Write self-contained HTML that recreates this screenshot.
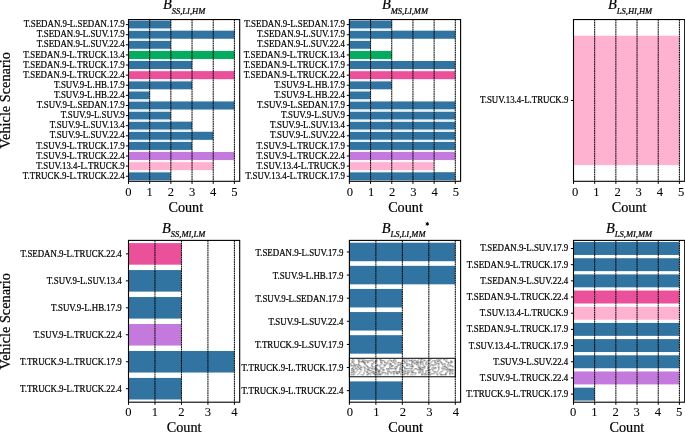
<!DOCTYPE html>
<html><head><meta charset="utf-8"><style>
html,body{margin:0;padding:0;background:#fff;}
body{width:685px;height:432px;overflow:hidden;}
svg{display:block;font-family:"Liberation Serif",serif;}
text{filter:grayscale(1);stroke:#000;stroke-width:0.22px;}
text{fill:#000;}
</style></head><body>
<svg width="685" height="432" viewBox="0 0 685 432">
<rect width="685" height="432" fill="#fff"/>
<rect x="128.5" y="20.56" width="42.36" height="8.09" fill="#3274A1"/>
<rect x="128.5" y="30.67" width="105.9" height="8.09" fill="#3274A1"/>
<rect x="128.5" y="40.78" width="42.36" height="8.09" fill="#3274A1"/>
<rect x="128.5" y="50.89" width="105.9" height="8.09" fill="#04AC60"/>
<rect x="128.5" y="61" width="63.54" height="8.09" fill="#3274A1"/>
<rect x="128.5" y="71.11" width="105.9" height="8.09" fill="#EA519A"/>
<rect x="128.5" y="81.22" width="63.54" height="8.09" fill="#3274A1"/>
<rect x="128.5" y="91.33" width="21.18" height="8.09" fill="#3274A1"/>
<rect x="128.5" y="101.44" width="105.9" height="8.09" fill="#3274A1"/>
<rect x="128.5" y="111.55" width="42.36" height="8.09" fill="#3274A1"/>
<rect x="128.5" y="121.65" width="63.54" height="8.09" fill="#3274A1"/>
<rect x="128.5" y="131.76" width="84.72" height="8.09" fill="#3274A1"/>
<rect x="128.5" y="141.87" width="63.54" height="8.09" fill="#3274A1"/>
<rect x="128.5" y="151.98" width="105.9" height="8.09" fill="#C47ADC"/>
<rect x="128.5" y="162.09" width="84.72" height="8.09" fill="#FFB2D0"/>
<rect x="128.5" y="172.2" width="42.36" height="8.09" fill="#3274A1"/>
<rect x="128.5" y="28.65" width="42.36" height="2.02" fill="#e6f2f5"/>
<rect x="128.5" y="38.76" width="42.36" height="2.02" fill="#e6f2f5"/>
<rect x="128.5" y="48.87" width="42.36" height="2.02" fill="#eaf5f3"/>
<rect x="128.5" y="58.98" width="63.54" height="2.02" fill="#eaf5f3"/>
<rect x="128.5" y="69.09" width="63.54" height="2.02" fill="#f4f0f6"/>
<rect x="128.5" y="79.2" width="63.54" height="2.02" fill="#f4f0f6"/>
<rect x="128.5" y="89.3" width="21.18" height="2.02" fill="#e6f2f5"/>
<rect x="128.5" y="99.41" width="21.18" height="2.02" fill="#e6f2f5"/>
<rect x="128.5" y="109.52" width="42.36" height="2.02" fill="#e6f2f5"/>
<rect x="128.5" y="119.63" width="42.36" height="2.02" fill="#e6f2f5"/>
<rect x="128.5" y="129.74" width="63.54" height="2.02" fill="#e6f2f5"/>
<rect x="128.5" y="139.85" width="63.54" height="2.02" fill="#e6f2f5"/>
<rect x="128.5" y="149.96" width="63.54" height="2.02" fill="#f3f2f9"/>
<rect x="128.5" y="160.07" width="84.72" height="2.02" fill="#fcf5fb"/>
<rect x="128.5" y="170.18" width="42.36" height="2.02" fill="#f5f5f8"/>
<line x1="149.68" y1="19.55" x2="149.68" y2="181.3" stroke="#000" stroke-width="1" stroke-dasharray="1.8 0.5"/>
<line x1="170.86" y1="19.55" x2="170.86" y2="181.3" stroke="#000" stroke-width="1" stroke-dasharray="1.8 0.5"/>
<line x1="192.04" y1="19.55" x2="192.04" y2="181.3" stroke="#000" stroke-width="1" stroke-dasharray="1.8 0.5"/>
<line x1="213.22" y1="19.55" x2="213.22" y2="181.3" stroke="#000" stroke-width="1" stroke-dasharray="1.8 0.5"/>
<line x1="234.4" y1="19.55" x2="234.4" y2="181.3" stroke="#000" stroke-width="1" stroke-dasharray="1.8 0.5"/>
<rect x="128.5" y="19.55" width="111.2" height="161.75" fill="none" stroke="#000" stroke-width="1.1"/>
<line x1="125.9" y1="24.6" x2="128.5" y2="24.6" stroke="#000" stroke-width="1"/>
<text x="124.7" y="27.25" font-size="9.3" text-anchor="end" textLength="100.87" lengthAdjust="spacingAndGlyphs">T.SEDAN.9-L.SEDAN.17.9</text>
<line x1="125.9" y1="34.71" x2="128.5" y2="34.71" stroke="#000" stroke-width="1"/>
<text x="124.7" y="37.36" font-size="9.3" text-anchor="end" textLength="87.93" lengthAdjust="spacingAndGlyphs">T.SEDAN.9-L.SUV.17.9</text>
<line x1="125.9" y1="44.82" x2="128.5" y2="44.82" stroke="#000" stroke-width="1"/>
<text x="124.7" y="47.47" font-size="9.3" text-anchor="end" textLength="87.93" lengthAdjust="spacingAndGlyphs">T.SEDAN.9-L.SUV.22.4</text>
<line x1="125.9" y1="54.93" x2="128.5" y2="54.93" stroke="#000" stroke-width="1"/>
<text x="124.7" y="57.58" font-size="9.3" text-anchor="end" textLength="101.36" lengthAdjust="spacingAndGlyphs">T.SEDAN.9-L.TRUCK.13.4</text>
<line x1="125.9" y1="65.04" x2="128.5" y2="65.04" stroke="#000" stroke-width="1"/>
<text x="124.7" y="67.69" font-size="9.3" text-anchor="end" textLength="101.36" lengthAdjust="spacingAndGlyphs">T.SEDAN.9-L.TRUCK.17.9</text>
<line x1="125.9" y1="75.15" x2="128.5" y2="75.15" stroke="#000" stroke-width="1"/>
<text x="124.7" y="77.8" font-size="9.3" text-anchor="end" textLength="101.36" lengthAdjust="spacingAndGlyphs">T.SEDAN.9-L.TRUCK.22.4</text>
<line x1="125.9" y1="85.26" x2="128.5" y2="85.26" stroke="#000" stroke-width="1"/>
<text x="124.7" y="87.91" font-size="9.3" text-anchor="end" textLength="70.72" lengthAdjust="spacingAndGlyphs">T.SUV.9-L.HB.17.9</text>
<line x1="125.9" y1="95.37" x2="128.5" y2="95.37" stroke="#000" stroke-width="1"/>
<text x="124.7" y="98.02" font-size="9.3" text-anchor="end" textLength="70.72" lengthAdjust="spacingAndGlyphs">T.SUV.9-L.HB.22.4</text>
<line x1="125.9" y1="105.48" x2="128.5" y2="105.48" stroke="#000" stroke-width="1"/>
<text x="124.7" y="108.13" font-size="9.3" text-anchor="end" textLength="87.93" lengthAdjust="spacingAndGlyphs">T.SUV.9-L.SEDAN.17.9</text>
<line x1="125.9" y1="115.59" x2="128.5" y2="115.59" stroke="#000" stroke-width="1"/>
<text x="124.7" y="118.24" font-size="9.3" text-anchor="end" textLength="63.93" lengthAdjust="spacingAndGlyphs">T.SUV.9-L.SUV.9</text>
<line x1="125.9" y1="125.7" x2="128.5" y2="125.7" stroke="#000" stroke-width="1"/>
<text x="124.7" y="128.35" font-size="9.3" text-anchor="end" textLength="74.99" lengthAdjust="spacingAndGlyphs">T.SUV.9-L.SUV.13.4</text>
<line x1="125.9" y1="135.81" x2="128.5" y2="135.81" stroke="#000" stroke-width="1"/>
<text x="124.7" y="138.46" font-size="9.3" text-anchor="end" textLength="74.99" lengthAdjust="spacingAndGlyphs">T.SUV.9-L.SUV.22.4</text>
<line x1="125.9" y1="145.92" x2="128.5" y2="145.92" stroke="#000" stroke-width="1"/>
<text x="124.7" y="148.57" font-size="9.3" text-anchor="end" textLength="88.42" lengthAdjust="spacingAndGlyphs">T.SUV.9-L.TRUCK.17.9</text>
<line x1="125.9" y1="156.03" x2="128.5" y2="156.03" stroke="#000" stroke-width="1"/>
<text x="124.7" y="158.68" font-size="9.3" text-anchor="end" textLength="88.42" lengthAdjust="spacingAndGlyphs">T.SUV.9-L.TRUCK.22.4</text>
<line x1="125.9" y1="166.14" x2="128.5" y2="166.14" stroke="#000" stroke-width="1"/>
<text x="124.7" y="168.79" font-size="9.3" text-anchor="end" textLength="88.42" lengthAdjust="spacingAndGlyphs">T.SUV.13.4-L.TRUCK.9</text>
<line x1="125.9" y1="176.25" x2="128.5" y2="176.25" stroke="#000" stroke-width="1"/>
<text x="124.7" y="178.9" font-size="9.3" text-anchor="end" textLength="101.85" lengthAdjust="spacingAndGlyphs">T.TRUCK.9-L.TRUCK.22.4</text>
<line x1="128.5" y1="181.3" x2="128.5" y2="183.9" stroke="#000" stroke-width="1"/>
<text x="128.5" y="196.1" font-size="12.6" text-anchor="middle" style="stroke-width:0.06px">0</text>
<line x1="149.68" y1="181.3" x2="149.68" y2="183.9" stroke="#000" stroke-width="1"/>
<text x="149.68" y="196.1" font-size="12.6" text-anchor="middle" style="stroke-width:0.06px">1</text>
<line x1="170.86" y1="181.3" x2="170.86" y2="183.9" stroke="#000" stroke-width="1"/>
<text x="170.86" y="196.1" font-size="12.6" text-anchor="middle" style="stroke-width:0.06px">2</text>
<line x1="192.04" y1="181.3" x2="192.04" y2="183.9" stroke="#000" stroke-width="1"/>
<text x="192.04" y="196.1" font-size="12.6" text-anchor="middle" style="stroke-width:0.06px">3</text>
<line x1="213.22" y1="181.3" x2="213.22" y2="183.9" stroke="#000" stroke-width="1"/>
<text x="213.22" y="196.1" font-size="12.6" text-anchor="middle" style="stroke-width:0.06px">4</text>
<line x1="234.4" y1="181.3" x2="234.4" y2="183.9" stroke="#000" stroke-width="1"/>
<text x="234.4" y="196.1" font-size="12.6" text-anchor="middle" style="stroke-width:0.06px">5</text>
<text x="185.8" y="211.5" font-size="14.2" text-anchor="middle">Count</text>
<text x="184.1" y="9.3" font-size="14.4" font-style="italic" text-anchor="middle">B<tspan font-size="8.5" dy="4.9">SS,LI,HM</tspan></text>
<text transform="translate(10.2 100.43) rotate(-90)" font-size="14.3" text-anchor="middle">Vehicle Scenario</text>
<rect x="349.4" y="20.56" width="42.36" height="8.09" fill="#3274A1"/>
<rect x="349.4" y="30.67" width="105.9" height="8.09" fill="#3274A1"/>
<rect x="349.4" y="40.78" width="21.18" height="8.09" fill="#3274A1"/>
<rect x="349.4" y="50.89" width="42.36" height="8.09" fill="#04AC60"/>
<rect x="349.4" y="61" width="105.9" height="8.09" fill="#3274A1"/>
<rect x="349.4" y="71.11" width="105.9" height="8.09" fill="#EA519A"/>
<rect x="349.4" y="81.22" width="42.36" height="8.09" fill="#3274A1"/>
<rect x="349.4" y="91.33" width="21.18" height="8.09" fill="#3274A1"/>
<rect x="349.4" y="101.44" width="105.9" height="8.09" fill="#3274A1"/>
<rect x="349.4" y="111.55" width="105.9" height="8.09" fill="#3274A1"/>
<rect x="349.4" y="121.65" width="105.9" height="8.09" fill="#3274A1"/>
<rect x="349.4" y="131.76" width="105.9" height="8.09" fill="#3274A1"/>
<rect x="349.4" y="141.87" width="105.9" height="8.09" fill="#3274A1"/>
<rect x="349.4" y="151.98" width="105.9" height="8.09" fill="#C47ADC"/>
<rect x="349.4" y="162.09" width="84.72" height="8.09" fill="#FFB2D0"/>
<rect x="349.4" y="172.2" width="105.9" height="8.09" fill="#3274A1"/>
<rect x="349.4" y="28.65" width="42.36" height="2.02" fill="#e6f2f5"/>
<rect x="349.4" y="38.76" width="21.18" height="2.02" fill="#e6f2f5"/>
<rect x="349.4" y="48.87" width="21.18" height="2.02" fill="#eaf5f3"/>
<rect x="349.4" y="58.98" width="42.36" height="2.02" fill="#eaf5f3"/>
<rect x="349.4" y="69.09" width="105.9" height="2.02" fill="#f4f0f6"/>
<rect x="349.4" y="79.2" width="42.36" height="2.02" fill="#f4f0f6"/>
<rect x="349.4" y="89.3" width="21.18" height="2.02" fill="#e6f2f5"/>
<rect x="349.4" y="99.41" width="21.18" height="2.02" fill="#e6f2f5"/>
<rect x="349.4" y="109.52" width="105.9" height="2.02" fill="#e6f2f5"/>
<rect x="349.4" y="119.63" width="105.9" height="2.02" fill="#e6f2f5"/>
<rect x="349.4" y="129.74" width="105.9" height="2.02" fill="#e6f2f5"/>
<rect x="349.4" y="139.85" width="105.9" height="2.02" fill="#e6f2f5"/>
<rect x="349.4" y="149.96" width="105.9" height="2.02" fill="#f3f2f9"/>
<rect x="349.4" y="160.07" width="84.72" height="2.02" fill="#fcf5fb"/>
<rect x="349.4" y="170.18" width="84.72" height="2.02" fill="#f5f5f8"/>
<line x1="370.58" y1="19.55" x2="370.58" y2="181.3" stroke="#000" stroke-width="1" stroke-dasharray="1.8 0.5"/>
<line x1="391.76" y1="19.55" x2="391.76" y2="181.3" stroke="#000" stroke-width="1" stroke-dasharray="1.8 0.5"/>
<line x1="412.94" y1="19.55" x2="412.94" y2="181.3" stroke="#000" stroke-width="1" stroke-dasharray="1.8 0.5"/>
<line x1="434.12" y1="19.55" x2="434.12" y2="181.3" stroke="#000" stroke-width="1" stroke-dasharray="1.8 0.5"/>
<line x1="455.3" y1="19.55" x2="455.3" y2="181.3" stroke="#000" stroke-width="1" stroke-dasharray="1.8 0.5"/>
<rect x="349.4" y="19.55" width="111.2" height="161.75" fill="none" stroke="#000" stroke-width="1.1"/>
<line x1="346.8" y1="24.6" x2="349.4" y2="24.6" stroke="#000" stroke-width="1"/>
<text x="345" y="27.25" font-size="9.3" text-anchor="end" textLength="100.87" lengthAdjust="spacingAndGlyphs">T.SEDAN.9-L.SEDAN.17.9</text>
<line x1="346.8" y1="34.71" x2="349.4" y2="34.71" stroke="#000" stroke-width="1"/>
<text x="345" y="37.36" font-size="9.3" text-anchor="end" textLength="87.93" lengthAdjust="spacingAndGlyphs">T.SEDAN.9-L.SUV.17.9</text>
<line x1="346.8" y1="44.82" x2="349.4" y2="44.82" stroke="#000" stroke-width="1"/>
<text x="345" y="47.47" font-size="9.3" text-anchor="end" textLength="87.93" lengthAdjust="spacingAndGlyphs">T.SEDAN.9-L.SUV.22.4</text>
<line x1="346.8" y1="54.93" x2="349.4" y2="54.93" stroke="#000" stroke-width="1"/>
<text x="345" y="57.58" font-size="9.3" text-anchor="end" textLength="101.36" lengthAdjust="spacingAndGlyphs">T.SEDAN.9-L.TRUCK.13.4</text>
<line x1="346.8" y1="65.04" x2="349.4" y2="65.04" stroke="#000" stroke-width="1"/>
<text x="345" y="67.69" font-size="9.3" text-anchor="end" textLength="101.36" lengthAdjust="spacingAndGlyphs">T.SEDAN.9-L.TRUCK.17.9</text>
<line x1="346.8" y1="75.15" x2="349.4" y2="75.15" stroke="#000" stroke-width="1"/>
<text x="345" y="77.8" font-size="9.3" text-anchor="end" textLength="101.36" lengthAdjust="spacingAndGlyphs">T.SEDAN.9-L.TRUCK.22.4</text>
<line x1="346.8" y1="85.26" x2="349.4" y2="85.26" stroke="#000" stroke-width="1"/>
<text x="345" y="87.91" font-size="9.3" text-anchor="end" textLength="70.72" lengthAdjust="spacingAndGlyphs">T.SUV.9-L.HB.17.9</text>
<line x1="346.8" y1="95.37" x2="349.4" y2="95.37" stroke="#000" stroke-width="1"/>
<text x="345" y="98.02" font-size="9.3" text-anchor="end" textLength="70.72" lengthAdjust="spacingAndGlyphs">T.SUV.9-L.HB.22.4</text>
<line x1="346.8" y1="105.48" x2="349.4" y2="105.48" stroke="#000" stroke-width="1"/>
<text x="345" y="108.13" font-size="9.3" text-anchor="end" textLength="87.93" lengthAdjust="spacingAndGlyphs">T.SUV.9-L.SEDAN.17.9</text>
<line x1="346.8" y1="115.59" x2="349.4" y2="115.59" stroke="#000" stroke-width="1"/>
<text x="345" y="118.24" font-size="9.3" text-anchor="end" textLength="63.93" lengthAdjust="spacingAndGlyphs">T.SUV.9-L.SUV.9</text>
<line x1="346.8" y1="125.7" x2="349.4" y2="125.7" stroke="#000" stroke-width="1"/>
<text x="345" y="128.35" font-size="9.3" text-anchor="end" textLength="74.99" lengthAdjust="spacingAndGlyphs">T.SUV.9-L.SUV.13.4</text>
<line x1="346.8" y1="135.81" x2="349.4" y2="135.81" stroke="#000" stroke-width="1"/>
<text x="345" y="138.46" font-size="9.3" text-anchor="end" textLength="74.99" lengthAdjust="spacingAndGlyphs">T.SUV.9-L.SUV.22.4</text>
<line x1="346.8" y1="145.92" x2="349.4" y2="145.92" stroke="#000" stroke-width="1"/>
<text x="345" y="148.57" font-size="9.3" text-anchor="end" textLength="88.42" lengthAdjust="spacingAndGlyphs">T.SUV.9-L.TRUCK.17.9</text>
<line x1="346.8" y1="156.03" x2="349.4" y2="156.03" stroke="#000" stroke-width="1"/>
<text x="345" y="158.68" font-size="9.3" text-anchor="end" textLength="88.42" lengthAdjust="spacingAndGlyphs">T.SUV.9-L.TRUCK.22.4</text>
<line x1="346.8" y1="166.14" x2="349.4" y2="166.14" stroke="#000" stroke-width="1"/>
<text x="345" y="168.79" font-size="9.3" text-anchor="end" textLength="88.42" lengthAdjust="spacingAndGlyphs">T.SUV.13.4-L.TRUCK.9</text>
<line x1="346.8" y1="176.25" x2="349.4" y2="176.25" stroke="#000" stroke-width="1"/>
<text x="345" y="178.9" font-size="9.3" text-anchor="end" textLength="99.49" lengthAdjust="spacingAndGlyphs">T.SUV.13.4-L.TRUCK.17.9</text>
<line x1="349.4" y1="181.3" x2="349.4" y2="183.9" stroke="#000" stroke-width="1"/>
<text x="349.9" y="196.1" font-size="12.6" text-anchor="middle" style="stroke-width:0.06px">0</text>
<line x1="370.58" y1="181.3" x2="370.58" y2="183.9" stroke="#000" stroke-width="1"/>
<text x="371.08" y="196.1" font-size="12.6" text-anchor="middle" style="stroke-width:0.06px">1</text>
<line x1="391.76" y1="181.3" x2="391.76" y2="183.9" stroke="#000" stroke-width="1"/>
<text x="392.26" y="196.1" font-size="12.6" text-anchor="middle" style="stroke-width:0.06px">2</text>
<line x1="412.94" y1="181.3" x2="412.94" y2="183.9" stroke="#000" stroke-width="1"/>
<text x="413.44" y="196.1" font-size="12.6" text-anchor="middle" style="stroke-width:0.06px">3</text>
<line x1="434.12" y1="181.3" x2="434.12" y2="183.9" stroke="#000" stroke-width="1"/>
<text x="434.62" y="196.1" font-size="12.6" text-anchor="middle" style="stroke-width:0.06px">4</text>
<line x1="455.3" y1="181.3" x2="455.3" y2="183.9" stroke="#000" stroke-width="1"/>
<text x="455.8" y="196.1" font-size="12.6" text-anchor="middle" style="stroke-width:0.06px">5</text>
<text x="405.5" y="211.5" font-size="14.2" text-anchor="middle">Count</text>
<text x="405" y="9.3" font-size="14.4" font-style="italic" text-anchor="middle">B<tspan font-size="8.5" dy="4.9">MS,LI,MM</tspan></text>
<rect x="573.5" y="35.72" width="105.9" height="129.4" fill="#FFB2D0"/>
<line x1="594.68" y1="19.55" x2="594.68" y2="181.3" stroke="#000" stroke-width="1" stroke-dasharray="1.8 0.5"/>
<line x1="615.86" y1="19.55" x2="615.86" y2="181.3" stroke="#000" stroke-width="1" stroke-dasharray="1.8 0.5"/>
<line x1="637.04" y1="19.55" x2="637.04" y2="181.3" stroke="#000" stroke-width="1" stroke-dasharray="1.8 0.5"/>
<line x1="658.22" y1="19.55" x2="658.22" y2="181.3" stroke="#000" stroke-width="1" stroke-dasharray="1.8 0.5"/>
<line x1="679.4" y1="19.55" x2="679.4" y2="181.3" stroke="#000" stroke-width="1" stroke-dasharray="1.8 0.5"/>
<rect x="573.5" y="19.55" width="111.2" height="161.75" fill="none" stroke="#000" stroke-width="1.1"/>
<line x1="570.9" y1="100.42" x2="573.5" y2="100.42" stroke="#000" stroke-width="1"/>
<text x="568.4" y="103.17" font-size="9.3" text-anchor="end" textLength="88.42" lengthAdjust="spacingAndGlyphs">T.SUV.13.4-L.TRUCK.9</text>
<line x1="573.5" y1="181.3" x2="573.5" y2="183.9" stroke="#000" stroke-width="1"/>
<text x="575.2" y="196.1" font-size="12.6" text-anchor="middle" style="stroke-width:0.06px">0</text>
<line x1="594.68" y1="181.3" x2="594.68" y2="183.9" stroke="#000" stroke-width="1"/>
<text x="596.38" y="196.1" font-size="12.6" text-anchor="middle" style="stroke-width:0.06px">1</text>
<line x1="615.86" y1="181.3" x2="615.86" y2="183.9" stroke="#000" stroke-width="1"/>
<text x="617.56" y="196.1" font-size="12.6" text-anchor="middle" style="stroke-width:0.06px">2</text>
<line x1="637.04" y1="181.3" x2="637.04" y2="183.9" stroke="#000" stroke-width="1"/>
<text x="638.74" y="196.1" font-size="12.6" text-anchor="middle" style="stroke-width:0.06px">3</text>
<line x1="658.22" y1="181.3" x2="658.22" y2="183.9" stroke="#000" stroke-width="1"/>
<text x="659.92" y="196.1" font-size="12.6" text-anchor="middle" style="stroke-width:0.06px">4</text>
<line x1="679.4" y1="181.3" x2="679.4" y2="183.9" stroke="#000" stroke-width="1"/>
<text x="681.1" y="196.1" font-size="12.6" text-anchor="middle" style="stroke-width:0.06px">5</text>
<text x="629.1" y="211.5" font-size="14.2" text-anchor="middle">Count</text>
<text x="630.1" y="9.3" font-size="14.4" font-style="italic" text-anchor="middle">B<tspan font-size="8.5" dy="4.9">LS,HI,HM</tspan></text>
<rect x="128.5" y="243.1" width="52.95" height="21.57" fill="#EA519A"/>
<rect x="128.5" y="270.06" width="52.95" height="21.57" fill="#3274A1"/>
<rect x="128.5" y="297.03" width="52.95" height="21.57" fill="#3274A1"/>
<rect x="128.5" y="324" width="52.95" height="21.57" fill="#C47ADC"/>
<rect x="128.5" y="350.96" width="105.9" height="21.57" fill="#3274A1"/>
<rect x="128.5" y="377.93" width="52.95" height="21.57" fill="#3274A1"/>
<line x1="154.98" y1="240.4" x2="154.98" y2="402.2" stroke="#000" stroke-width="1" stroke-dasharray="1.8 0.5"/>
<line x1="181.45" y1="240.4" x2="181.45" y2="402.2" stroke="#000" stroke-width="1" stroke-dasharray="1.8 0.5"/>
<line x1="207.93" y1="240.4" x2="207.93" y2="402.2" stroke="#000" stroke-width="1" stroke-dasharray="1.8 0.5"/>
<line x1="234.4" y1="240.4" x2="234.4" y2="402.2" stroke="#000" stroke-width="1" stroke-dasharray="1.8 0.5"/>
<rect x="128.5" y="240.4" width="111.2" height="161.8" fill="none" stroke="#000" stroke-width="1.1"/>
<line x1="125.9" y1="253.88" x2="128.5" y2="253.88" stroke="#000" stroke-width="1"/>
<text x="121.8" y="256.83" font-size="9.3" text-anchor="end" textLength="101.36" lengthAdjust="spacingAndGlyphs">T.SEDAN.9-L.TRUCK.22.4</text>
<line x1="125.9" y1="280.85" x2="128.5" y2="280.85" stroke="#000" stroke-width="1"/>
<text x="121.8" y="283.8" font-size="9.3" text-anchor="end" textLength="74.99" lengthAdjust="spacingAndGlyphs">T.SUV.9-L.SUV.13.4</text>
<line x1="125.9" y1="307.82" x2="128.5" y2="307.82" stroke="#000" stroke-width="1"/>
<text x="121.8" y="310.77" font-size="9.3" text-anchor="end" textLength="70.72" lengthAdjust="spacingAndGlyphs">T.SUV.9-L.HB.17.9</text>
<line x1="125.9" y1="334.78" x2="128.5" y2="334.78" stroke="#000" stroke-width="1"/>
<text x="121.8" y="337.73" font-size="9.3" text-anchor="end" textLength="88.42" lengthAdjust="spacingAndGlyphs">T.SUV.9-L.TRUCK.22.4</text>
<line x1="125.9" y1="361.75" x2="128.5" y2="361.75" stroke="#000" stroke-width="1"/>
<text x="121.8" y="364.7" font-size="9.3" text-anchor="end" textLength="101.85" lengthAdjust="spacingAndGlyphs">T.TRUCK.9-L.TRUCK.17.9</text>
<line x1="125.9" y1="388.72" x2="128.5" y2="388.72" stroke="#000" stroke-width="1"/>
<text x="121.8" y="391.67" font-size="9.3" text-anchor="end" textLength="101.85" lengthAdjust="spacingAndGlyphs">T.TRUCK.9-L.TRUCK.22.4</text>
<line x1="128.5" y1="402.2" x2="128.5" y2="404.8" stroke="#000" stroke-width="1"/>
<text x="128.5" y="415.9" font-size="12.6" text-anchor="middle" style="stroke-width:0.06px">0</text>
<line x1="154.98" y1="402.2" x2="154.98" y2="404.8" stroke="#000" stroke-width="1"/>
<text x="154.98" y="415.9" font-size="12.6" text-anchor="middle" style="stroke-width:0.06px">1</text>
<line x1="181.45" y1="402.2" x2="181.45" y2="404.8" stroke="#000" stroke-width="1"/>
<text x="181.45" y="415.9" font-size="12.6" text-anchor="middle" style="stroke-width:0.06px">2</text>
<line x1="207.93" y1="402.2" x2="207.93" y2="404.8" stroke="#000" stroke-width="1"/>
<text x="207.93" y="415.9" font-size="12.6" text-anchor="middle" style="stroke-width:0.06px">3</text>
<line x1="234.4" y1="402.2" x2="234.4" y2="404.8" stroke="#000" stroke-width="1"/>
<text x="234.4" y="415.9" font-size="12.6" text-anchor="middle" style="stroke-width:0.06px">4</text>
<text x="184.1" y="432.4" font-size="14.2" text-anchor="middle">Count</text>
<text x="183.6" y="232.5" font-size="14.4" font-style="italic" text-anchor="middle">B<tspan font-size="8.5" dy="4.9">SS,MI,LM</tspan></text>
<text transform="translate(10.2 321.3) rotate(-90)" font-size="14.3" text-anchor="middle">Vehicle Scenario</text>
<rect x="349.4" y="242.71" width="105.9" height="18.49" fill="#3274A1"/>
<rect x="349.4" y="265.83" width="105.9" height="18.49" fill="#3274A1"/>
<rect x="349.4" y="288.94" width="52.95" height="18.49" fill="#3274A1"/>
<rect x="349.4" y="312.05" width="52.95" height="18.49" fill="#3274A1"/>
<rect x="349.4" y="335.17" width="52.95" height="18.49" fill="#3274A1"/>
<rect x="349.4" y="358.28" width="105.9" height="18.49" fill="#fff"/>
<rect x="352.4" y="359.28" width="1" height="1" fill="#373737"/><rect x="353.4" y="359.28" width="1" height="1" fill="#bebebe"/><rect x="357.4" y="359.28" width="1" height="1" fill="#7d7d7d"/><rect x="358.4" y="359.28" width="1" height="1" fill="#bebebe"/><rect x="359.4" y="359.28" width="1" height="1" fill="#7d7d7d"/><rect x="361.4" y="359.28" width="1" height="1" fill="#7d7d7d"/><rect x="362.4" y="359.28" width="1" height="1" fill="#bebebe"/><rect x="363.4" y="359.28" width="1" height="1" fill="#7d7d7d"/><rect x="364.4" y="359.28" width="1" height="1" fill="#bebebe"/><rect x="370.4" y="359.28" width="1" height="1" fill="#bebebe"/><rect x="371.4" y="359.28" width="1" height="1" fill="#bebebe"/><rect x="372.4" y="359.28" width="1" height="1" fill="#bebebe"/><rect x="373.4" y="359.28" width="1" height="1" fill="#bebebe"/><rect x="376.4" y="359.28" width="1" height="1" fill="#3b3b3b"/><rect x="379.4" y="359.28" width="1" height="1" fill="#7d7d7d"/><rect x="380.4" y="359.28" width="1" height="1" fill="#3b3b3b"/><rect x="389.4" y="359.28" width="1" height="1" fill="#7d7d7d"/><rect x="393.4" y="359.28" width="1" height="1" fill="#7d7d7d"/><rect x="394.4" y="359.28" width="1" height="1" fill="#7d7d7d"/><rect x="395.4" y="359.28" width="1" height="1" fill="#bebebe"/><rect x="402.4" y="359.28" width="1" height="1" fill="#7d7d7d"/><rect x="403.4" y="359.28" width="1" height="1" fill="#bebebe"/><rect x="404.4" y="359.28" width="1" height="1" fill="#7d7d7d"/><rect x="406.4" y="359.28" width="1" height="1" fill="#7d7d7d"/><rect x="408.4" y="359.28" width="1" height="1" fill="#7d7d7d"/><rect x="411.4" y="359.28" width="1" height="1" fill="#7d7d7d"/><rect x="413.4" y="359.28" width="1" height="1" fill="#bebebe"/><rect x="414.4" y="359.28" width="1" height="1" fill="#bebebe"/><rect x="418.4" y="359.28" width="1" height="1" fill="#7d7d7d"/><rect x="420.4" y="359.28" width="1" height="1" fill="#7d7d7d"/><rect x="421.4" y="359.28" width="1" height="1" fill="#3b3b3b"/><rect x="422.4" y="359.28" width="1" height="1" fill="#bebebe"/><rect x="423.4" y="359.28" width="1" height="1" fill="#bebebe"/><rect x="424.4" y="359.28" width="1" height="1" fill="#bebebe"/><rect x="428.4" y="359.28" width="1" height="1" fill="#7d7d7d"/><rect x="429.4" y="359.28" width="1" height="1" fill="#7d7d7d"/><rect x="430.4" y="359.28" width="1" height="1" fill="#7d7d7d"/><rect x="436.4" y="359.28" width="1" height="1" fill="#7d7d7d"/><rect x="438.4" y="359.28" width="1" height="1" fill="#3b3b3b"/><rect x="439.4" y="359.28" width="1" height="1" fill="#bebebe"/><rect x="440.4" y="359.28" width="1" height="1" fill="#7d7d7d"/><rect x="443.4" y="359.28" width="1" height="1" fill="#3b3b3b"/><rect x="444.4" y="359.28" width="1" height="1" fill="#7d7d7d"/><rect x="445.4" y="359.28" width="1" height="1" fill="#bebebe"/><rect x="446.4" y="359.28" width="1" height="1" fill="#7d7d7d"/><rect x="351.4" y="360.28" width="1" height="1" fill="#7d7d7d"/><rect x="353.4" y="360.28" width="1" height="1" fill="#7d7d7d"/><rect x="358.4" y="360.28" width="1" height="1" fill="#373737"/><rect x="362.4" y="360.28" width="1" height="1" fill="#3b3b3b"/><rect x="364.4" y="360.28" width="1" height="1" fill="#7d7d7d"/><rect x="365.4" y="360.28" width="1" height="1" fill="#7d7d7d"/><rect x="366.4" y="360.28" width="1" height="1" fill="#7d7d7d"/><rect x="367.4" y="360.28" width="1" height="1" fill="#7d7d7d"/><rect x="368.4" y="360.28" width="1" height="1" fill="#7d7d7d"/><rect x="369.4" y="360.28" width="1" height="1" fill="#7d7d7d"/><rect x="370.4" y="360.28" width="1" height="1" fill="#7d7d7d"/><rect x="371.4" y="360.28" width="1" height="1" fill="#7d7d7d"/><rect x="372.4" y="360.28" width="1" height="1" fill="#7d7d7d"/><rect x="376.4" y="360.28" width="1" height="1" fill="#7d7d7d"/><rect x="380.4" y="360.28" width="1" height="1" fill="#3b3b3b"/><rect x="381.4" y="360.28" width="1" height="1" fill="#7d7d7d"/><rect x="382.4" y="360.28" width="1" height="1" fill="#3b3b3b"/><rect x="383.4" y="360.28" width="1" height="1" fill="#7d7d7d"/><rect x="384.4" y="360.28" width="1" height="1" fill="#bebebe"/><rect x="387.4" y="360.28" width="1" height="1" fill="#bebebe"/><rect x="388.4" y="360.28" width="1" height="1" fill="#7d7d7d"/><rect x="389.4" y="360.28" width="1" height="1" fill="#bebebe"/><rect x="390.4" y="360.28" width="1" height="1" fill="#7d7d7d"/><rect x="391.4" y="360.28" width="1" height="1" fill="#3b3b3b"/><rect x="393.4" y="360.28" width="1" height="1" fill="#3b3b3b"/><rect x="395.4" y="360.28" width="1" height="1" fill="#7d7d7d"/><rect x="403.4" y="360.28" width="1" height="1" fill="#373737"/><rect x="404.4" y="360.28" width="1" height="1" fill="#bebebe"/><rect x="406.4" y="360.28" width="1" height="1" fill="#7d7d7d"/><rect x="408.4" y="360.28" width="1" height="1" fill="#bebebe"/><rect x="409.4" y="360.28" width="1" height="1" fill="#3b3b3b"/><rect x="410.4" y="360.28" width="1" height="1" fill="#7d7d7d"/><rect x="411.4" y="360.28" width="1" height="1" fill="#3b3b3b"/><rect x="412.4" y="360.28" width="1" height="1" fill="#bebebe"/><rect x="413.4" y="360.28" width="1" height="1" fill="#7d7d7d"/><rect x="414.4" y="360.28" width="1" height="1" fill="#7d7d7d"/><rect x="415.4" y="360.28" width="1" height="1" fill="#7d7d7d"/><rect x="416.4" y="360.28" width="1" height="1" fill="#bebebe"/><rect x="417.4" y="360.28" width="1" height="1" fill="#7d7d7d"/><rect x="420.4" y="360.28" width="1" height="1" fill="#7d7d7d"/><rect x="423.4" y="360.28" width="1" height="1" fill="#7d7d7d"/><rect x="424.4" y="360.28" width="1" height="1" fill="#3b3b3b"/><rect x="426.4" y="360.28" width="1" height="1" fill="#bebebe"/><rect x="427.4" y="360.28" width="1" height="1" fill="#7d7d7d"/><rect x="429.4" y="360.28" width="1" height="1" fill="#7d7d7d"/><rect x="432.4" y="360.28" width="1" height="1" fill="#7d7d7d"/><rect x="433.4" y="360.28" width="1" height="1" fill="#7d7d7d"/><rect x="434.4" y="360.28" width="1" height="1" fill="#7d7d7d"/><rect x="435.4" y="360.28" width="1" height="1" fill="#7d7d7d"/><rect x="436.4" y="360.28" width="1" height="1" fill="#bebebe"/><rect x="437.4" y="360.28" width="1" height="1" fill="#7d7d7d"/><rect x="438.4" y="360.28" width="1" height="1" fill="#7d7d7d"/><rect x="439.4" y="360.28" width="1" height="1" fill="#7d7d7d"/><rect x="445.4" y="360.28" width="1" height="1" fill="#7d7d7d"/><rect x="446.4" y="360.28" width="1" height="1" fill="#bebebe"/><rect x="450.4" y="360.28" width="1" height="1" fill="#7d7d7d"/><rect x="451.4" y="360.28" width="1" height="1" fill="#bebebe"/><rect x="351.4" y="361.28" width="1" height="1" fill="#bebebe"/><rect x="352.4" y="361.28" width="1" height="1" fill="#3b3b3b"/><rect x="353.4" y="361.28" width="1" height="1" fill="#bebebe"/><rect x="358.4" y="361.28" width="1" height="1" fill="#3b3b3b"/><rect x="359.4" y="361.28" width="1" height="1" fill="#7d7d7d"/><rect x="360.4" y="361.28" width="1" height="1" fill="#7d7d7d"/><rect x="361.4" y="361.28" width="1" height="1" fill="#3b3b3b"/><rect x="362.4" y="361.28" width="1" height="1" fill="#3b3b3b"/><rect x="363.4" y="361.28" width="1" height="1" fill="#3b3b3b"/><rect x="364.4" y="361.28" width="1" height="1" fill="#bebebe"/><rect x="365.4" y="361.28" width="1" height="1" fill="#bebebe"/><rect x="366.4" y="361.28" width="1" height="1" fill="#bebebe"/><rect x="367.4" y="361.28" width="1" height="1" fill="#7d7d7d"/><rect x="368.4" y="361.28" width="1" height="1" fill="#bebebe"/><rect x="369.4" y="361.28" width="1" height="1" fill="#bebebe"/><rect x="373.4" y="361.28" width="1" height="1" fill="#7d7d7d"/><rect x="374.4" y="361.28" width="1" height="1" fill="#7d7d7d"/><rect x="375.4" y="361.28" width="1" height="1" fill="#3b3b3b"/><rect x="376.4" y="361.28" width="1" height="1" fill="#7d7d7d"/><rect x="380.4" y="361.28" width="1" height="1" fill="#7d7d7d"/><rect x="384.4" y="361.28" width="1" height="1" fill="#7d7d7d"/><rect x="387.4" y="361.28" width="1" height="1" fill="#7d7d7d"/><rect x="391.4" y="361.28" width="1" height="1" fill="#7d7d7d"/><rect x="392.4" y="361.28" width="1" height="1" fill="#bebebe"/><rect x="393.4" y="361.28" width="1" height="1" fill="#7d7d7d"/><rect x="394.4" y="361.28" width="1" height="1" fill="#bebebe"/><rect x="395.4" y="361.28" width="1" height="1" fill="#7d7d7d"/><rect x="401.4" y="361.28" width="1" height="1" fill="#7d7d7d"/><rect x="402.4" y="361.28" width="1" height="1" fill="#7d7d7d"/><rect x="404.4" y="361.28" width="1" height="1" fill="#3b3b3b"/><rect x="406.4" y="361.28" width="1" height="1" fill="#7d7d7d"/><rect x="411.4" y="361.28" width="1" height="1" fill="#7d7d7d"/><rect x="412.4" y="361.28" width="1" height="1" fill="#3b3b3b"/><rect x="414.4" y="361.28" width="1" height="1" fill="#bebebe"/><rect x="416.4" y="361.28" width="1" height="1" fill="#3b3b3b"/><rect x="417.4" y="361.28" width="1" height="1" fill="#bebebe"/><rect x="418.4" y="361.28" width="1" height="1" fill="#7d7d7d"/><rect x="420.4" y="361.28" width="1" height="1" fill="#3b3b3b"/><rect x="421.4" y="361.28" width="1" height="1" fill="#7d7d7d"/><rect x="422.4" y="361.28" width="1" height="1" fill="#7d7d7d"/><rect x="426.4" y="361.28" width="1" height="1" fill="#7d7d7d"/><rect x="431.4" y="361.28" width="1" height="1" fill="#7d7d7d"/><rect x="434.4" y="361.28" width="1" height="1" fill="#7d7d7d"/><rect x="435.4" y="361.28" width="1" height="1" fill="#bebebe"/><rect x="437.4" y="361.28" width="1" height="1" fill="#3b3b3b"/><rect x="438.4" y="361.28" width="1" height="1" fill="#7d7d7d"/><rect x="439.4" y="361.28" width="1" height="1" fill="#bebebe"/><rect x="440.4" y="361.28" width="1" height="1" fill="#7d7d7d"/><rect x="445.4" y="361.28" width="1" height="1" fill="#7d7d7d"/><rect x="446.4" y="361.28" width="1" height="1" fill="#7d7d7d"/><rect x="447.4" y="361.28" width="1" height="1" fill="#bebebe"/><rect x="450.4" y="361.28" width="1" height="1" fill="#7d7d7d"/><rect x="451.4" y="361.28" width="1" height="1" fill="#3b3b3b"/><rect x="452.4" y="361.28" width="1" height="1" fill="#bebebe"/><rect x="351.4" y="362.28" width="1" height="1" fill="#7d7d7d"/><rect x="352.4" y="362.28" width="1" height="1" fill="#7d7d7d"/><rect x="353.4" y="362.28" width="1" height="1" fill="#bebebe"/><rect x="358.4" y="362.28" width="1" height="1" fill="#7d7d7d"/><rect x="362.4" y="362.28" width="1" height="1" fill="#bebebe"/><rect x="363.4" y="362.28" width="1" height="1" fill="#3b3b3b"/><rect x="364.4" y="362.28" width="1" height="1" fill="#3b3b3b"/><rect x="365.4" y="362.28" width="1" height="1" fill="#bebebe"/><rect x="367.4" y="362.28" width="1" height="1" fill="#3b3b3b"/><rect x="368.4" y="362.28" width="1" height="1" fill="#bebebe"/><rect x="373.4" y="362.28" width="1" height="1" fill="#7d7d7d"/><rect x="375.4" y="362.28" width="1" height="1" fill="#bebebe"/><rect x="376.4" y="362.28" width="1" height="1" fill="#bebebe"/><rect x="380.4" y="362.28" width="1" height="1" fill="#3b3b3b"/><rect x="381.4" y="362.28" width="1" height="1" fill="#7d7d7d"/><rect x="382.4" y="362.28" width="1" height="1" fill="#bebebe"/><rect x="384.4" y="362.28" width="1" height="1" fill="#3b3b3b"/><rect x="385.4" y="362.28" width="1" height="1" fill="#7d7d7d"/><rect x="386.4" y="362.28" width="1" height="1" fill="#7d7d7d"/><rect x="388.4" y="362.28" width="1" height="1" fill="#bebebe"/><rect x="389.4" y="362.28" width="1" height="1" fill="#bebebe"/><rect x="392.4" y="362.28" width="1" height="1" fill="#7d7d7d"/><rect x="393.4" y="362.28" width="1" height="1" fill="#bebebe"/><rect x="394.4" y="362.28" width="1" height="1" fill="#7d7d7d"/><rect x="396.4" y="362.28" width="1" height="1" fill="#bebebe"/><rect x="397.4" y="362.28" width="1" height="1" fill="#7d7d7d"/><rect x="398.4" y="362.28" width="1" height="1" fill="#3b3b3b"/><rect x="399.4" y="362.28" width="1" height="1" fill="#7d7d7d"/><rect x="400.4" y="362.28" width="1" height="1" fill="#7d7d7d"/><rect x="404.4" y="362.28" width="1" height="1" fill="#7d7d7d"/><rect x="405.4" y="362.28" width="1" height="1" fill="#7d7d7d"/><rect x="406.4" y="362.28" width="1" height="1" fill="#bebebe"/><rect x="411.4" y="362.28" width="1" height="1" fill="#7d7d7d"/><rect x="412.4" y="362.28" width="1" height="1" fill="#7d7d7d"/><rect x="413.4" y="362.28" width="1" height="1" fill="#7d7d7d"/><rect x="414.4" y="362.28" width="1" height="1" fill="#bebebe"/><rect x="415.4" y="362.28" width="1" height="1" fill="#7d7d7d"/><rect x="416.4" y="362.28" width="1" height="1" fill="#3b3b3b"/><rect x="417.4" y="362.28" width="1" height="1" fill="#3b3b3b"/><rect x="418.4" y="362.28" width="1" height="1" fill="#7d7d7d"/><rect x="419.4" y="362.28" width="1" height="1" fill="#7d7d7d"/><rect x="420.4" y="362.28" width="1" height="1" fill="#3b3b3b"/><rect x="422.4" y="362.28" width="1" height="1" fill="#7d7d7d"/><rect x="425.4" y="362.28" width="1" height="1" fill="#7d7d7d"/><rect x="426.4" y="362.28" width="1" height="1" fill="#7d7d7d"/><rect x="430.4" y="362.28" width="1" height="1" fill="#7d7d7d"/><rect x="434.4" y="362.28" width="1" height="1" fill="#7d7d7d"/><rect x="435.4" y="362.28" width="1" height="1" fill="#3b3b3b"/><rect x="440.4" y="362.28" width="1" height="1" fill="#7d7d7d"/><rect x="441.4" y="362.28" width="1" height="1" fill="#3b3b3b"/><rect x="447.4" y="362.28" width="1" height="1" fill="#7d7d7d"/><rect x="448.4" y="362.28" width="1" height="1" fill="#3b3b3b"/><rect x="450.4" y="362.28" width="1" height="1" fill="#3b3b3b"/><rect x="451.4" y="362.28" width="1" height="1" fill="#7d7d7d"/><rect x="350.4" y="363.28" width="1" height="1" fill="#7d7d7d"/><rect x="353.4" y="363.28" width="1" height="1" fill="#3b3b3b"/><rect x="358.4" y="363.28" width="1" height="1" fill="#7d7d7d"/><rect x="364.4" y="363.28" width="1" height="1" fill="#3b3b3b"/><rect x="371.4" y="363.28" width="1" height="1" fill="#7d7d7d"/><rect x="372.4" y="363.28" width="1" height="1" fill="#3b3b3b"/><rect x="373.4" y="363.28" width="1" height="1" fill="#bebebe"/><rect x="381.4" y="363.28" width="1" height="1" fill="#7d7d7d"/><rect x="386.4" y="363.28" width="1" height="1" fill="#7d7d7d"/><rect x="387.4" y="363.28" width="1" height="1" fill="#7d7d7d"/><rect x="388.4" y="363.28" width="1" height="1" fill="#bebebe"/><rect x="389.4" y="363.28" width="1" height="1" fill="#7d7d7d"/><rect x="390.4" y="363.28" width="1" height="1" fill="#3b3b3b"/><rect x="394.4" y="363.28" width="1" height="1" fill="#7d7d7d"/><rect x="395.4" y="363.28" width="1" height="1" fill="#bebebe"/><rect x="396.4" y="363.28" width="1" height="1" fill="#bebebe"/><rect x="400.4" y="363.28" width="1" height="1" fill="#7d7d7d"/><rect x="401.4" y="363.28" width="1" height="1" fill="#3b3b3b"/><rect x="402.4" y="363.28" width="1" height="1" fill="#7d7d7d"/><rect x="403.4" y="363.28" width="1" height="1" fill="#7d7d7d"/><rect x="404.4" y="363.28" width="1" height="1" fill="#bebebe"/><rect x="406.4" y="363.28" width="1" height="1" fill="#3b3b3b"/><rect x="408.4" y="363.28" width="1" height="1" fill="#7d7d7d"/><rect x="411.4" y="363.28" width="1" height="1" fill="#7d7d7d"/><rect x="413.4" y="363.28" width="1" height="1" fill="#bebebe"/><rect x="414.4" y="363.28" width="1" height="1" fill="#3b3b3b"/><rect x="415.4" y="363.28" width="1" height="1" fill="#bebebe"/><rect x="416.4" y="363.28" width="1" height="1" fill="#bebebe"/><rect x="417.4" y="363.28" width="1" height="1" fill="#7d7d7d"/><rect x="420.4" y="363.28" width="1" height="1" fill="#7d7d7d"/><rect x="422.4" y="363.28" width="1" height="1" fill="#7d7d7d"/><rect x="425.4" y="363.28" width="1" height="1" fill="#7d7d7d"/><rect x="427.4" y="363.28" width="1" height="1" fill="#7d7d7d"/><rect x="428.4" y="363.28" width="1" height="1" fill="#3b3b3b"/><rect x="429.4" y="363.28" width="1" height="1" fill="#7d7d7d"/><rect x="430.4" y="363.28" width="1" height="1" fill="#bebebe"/><rect x="434.4" y="363.28" width="1" height="1" fill="#bebebe"/><rect x="435.4" y="363.28" width="1" height="1" fill="#bebebe"/><rect x="436.4" y="363.28" width="1" height="1" fill="#7d7d7d"/><rect x="437.4" y="363.28" width="1" height="1" fill="#7d7d7d"/><rect x="438.4" y="363.28" width="1" height="1" fill="#3b3b3b"/><rect x="441.4" y="363.28" width="1" height="1" fill="#7d7d7d"/><rect x="443.4" y="363.28" width="1" height="1" fill="#7d7d7d"/><rect x="444.4" y="363.28" width="1" height="1" fill="#7d7d7d"/><rect x="448.4" y="363.28" width="1" height="1" fill="#7d7d7d"/><rect x="350.4" y="364.28" width="1" height="1" fill="#7d7d7d"/><rect x="353.4" y="364.28" width="1" height="1" fill="#bebebe"/><rect x="354.4" y="364.28" width="1" height="1" fill="#7d7d7d"/><rect x="355.4" y="364.28" width="1" height="1" fill="#7d7d7d"/><rect x="356.4" y="364.28" width="1" height="1" fill="#3b3b3b"/><rect x="357.4" y="364.28" width="1" height="1" fill="#bebebe"/><rect x="358.4" y="364.28" width="1" height="1" fill="#3b3b3b"/><rect x="364.4" y="364.28" width="1" height="1" fill="#7d7d7d"/><rect x="365.4" y="364.28" width="1" height="1" fill="#7d7d7d"/><rect x="371.4" y="364.28" width="1" height="1" fill="#7d7d7d"/><rect x="376.4" y="364.28" width="1" height="1" fill="#7d7d7d"/><rect x="377.4" y="364.28" width="1" height="1" fill="#7d7d7d"/><rect x="378.4" y="364.28" width="1" height="1" fill="#bebebe"/><rect x="380.4" y="364.28" width="1" height="1" fill="#7d7d7d"/><rect x="381.4" y="364.28" width="1" height="1" fill="#bebebe"/><rect x="383.4" y="364.28" width="1" height="1" fill="#7d7d7d"/><rect x="384.4" y="364.28" width="1" height="1" fill="#7d7d7d"/><rect x="385.4" y="364.28" width="1" height="1" fill="#7d7d7d"/><rect x="389.4" y="364.28" width="1" height="1" fill="#7d7d7d"/><rect x="390.4" y="364.28" width="1" height="1" fill="#3b3b3b"/><rect x="394.4" y="364.28" width="1" height="1" fill="#bebebe"/><rect x="395.4" y="364.28" width="1" height="1" fill="#bebebe"/><rect x="397.4" y="364.28" width="1" height="1" fill="#7d7d7d"/><rect x="398.4" y="364.28" width="1" height="1" fill="#7d7d7d"/><rect x="399.4" y="364.28" width="1" height="1" fill="#7d7d7d"/><rect x="400.4" y="364.28" width="1" height="1" fill="#3b3b3b"/><rect x="406.4" y="364.28" width="1" height="1" fill="#7d7d7d"/><rect x="407.4" y="364.28" width="1" height="1" fill="#7d7d7d"/><rect x="408.4" y="364.28" width="1" height="1" fill="#bebebe"/><rect x="409.4" y="364.28" width="1" height="1" fill="#3b3b3b"/><rect x="410.4" y="364.28" width="1" height="1" fill="#bebebe"/><rect x="411.4" y="364.28" width="1" height="1" fill="#3b3b3b"/><rect x="415.4" y="364.28" width="1" height="1" fill="#bebebe"/><rect x="416.4" y="364.28" width="1" height="1" fill="#3b3b3b"/><rect x="417.4" y="364.28" width="1" height="1" fill="#7d7d7d"/><rect x="419.4" y="364.28" width="1" height="1" fill="#bebebe"/><rect x="420.4" y="364.28" width="1" height="1" fill="#7d7d7d"/><rect x="422.4" y="364.28" width="1" height="1" fill="#7d7d7d"/><rect x="423.4" y="364.28" width="1" height="1" fill="#bebebe"/><rect x="425.4" y="364.28" width="1" height="1" fill="#7d7d7d"/><rect x="426.4" y="364.28" width="1" height="1" fill="#7d7d7d"/><rect x="427.4" y="364.28" width="1" height="1" fill="#bebebe"/><rect x="429.4" y="364.28" width="1" height="1" fill="#bebebe"/><rect x="430.4" y="364.28" width="1" height="1" fill="#bebebe"/><rect x="431.4" y="364.28" width="1" height="1" fill="#7d7d7d"/><rect x="432.4" y="364.28" width="1" height="1" fill="#7d7d7d"/><rect x="433.4" y="364.28" width="1" height="1" fill="#bebebe"/><rect x="434.4" y="364.28" width="1" height="1" fill="#7d7d7d"/><rect x="435.4" y="364.28" width="1" height="1" fill="#7d7d7d"/><rect x="438.4" y="364.28" width="1" height="1" fill="#7d7d7d"/><rect x="441.4" y="364.28" width="1" height="1" fill="#bebebe"/><rect x="442.4" y="364.28" width="1" height="1" fill="#3b3b3b"/><rect x="444.4" y="364.28" width="1" height="1" fill="#7d7d7d"/><rect x="445.4" y="364.28" width="1" height="1" fill="#bebebe"/><rect x="447.4" y="364.28" width="1" height="1" fill="#7d7d7d"/><rect x="449.4" y="364.28" width="1" height="1" fill="#7d7d7d"/><rect x="350.4" y="365.28" width="1" height="1" fill="#7d7d7d"/><rect x="351.4" y="365.28" width="1" height="1" fill="#3b3b3b"/><rect x="352.4" y="365.28" width="1" height="1" fill="#7d7d7d"/><rect x="353.4" y="365.28" width="1" height="1" fill="#7d7d7d"/><rect x="354.4" y="365.28" width="1" height="1" fill="#3b3b3b"/><rect x="357.4" y="365.28" width="1" height="1" fill="#7d7d7d"/><rect x="358.4" y="365.28" width="1" height="1" fill="#bebebe"/><rect x="359.4" y="365.28" width="1" height="1" fill="#3b3b3b"/><rect x="360.4" y="365.28" width="1" height="1" fill="#bebebe"/><rect x="365.4" y="365.28" width="1" height="1" fill="#bebebe"/><rect x="366.4" y="365.28" width="1" height="1" fill="#3b3b3b"/><rect x="371.4" y="365.28" width="1" height="1" fill="#3b3b3b"/><rect x="376.4" y="365.28" width="1" height="1" fill="#3b3b3b"/><rect x="377.4" y="365.28" width="1" height="1" fill="#7d7d7d"/><rect x="378.4" y="365.28" width="1" height="1" fill="#bebebe"/><rect x="379.4" y="365.28" width="1" height="1" fill="#7d7d7d"/><rect x="383.4" y="365.28" width="1" height="1" fill="#bebebe"/><rect x="384.4" y="365.28" width="1" height="1" fill="#3b3b3b"/><rect x="389.4" y="365.28" width="1" height="1" fill="#7d7d7d"/><rect x="390.4" y="365.28" width="1" height="1" fill="#bebebe"/><rect x="391.4" y="365.28" width="1" height="1" fill="#3b3b3b"/><rect x="392.4" y="365.28" width="1" height="1" fill="#3b3b3b"/><rect x="397.4" y="365.28" width="1" height="1" fill="#7d7d7d"/><rect x="398.4" y="365.28" width="1" height="1" fill="#7d7d7d"/><rect x="400.4" y="365.28" width="1" height="1" fill="#7d7d7d"/><rect x="402.4" y="365.28" width="1" height="1" fill="#7d7d7d"/><rect x="406.4" y="365.28" width="1" height="1" fill="#3b3b3b"/><rect x="407.4" y="365.28" width="1" height="1" fill="#7d7d7d"/><rect x="409.4" y="365.28" width="1" height="1" fill="#bebebe"/><rect x="410.4" y="365.28" width="1" height="1" fill="#bebebe"/><rect x="411.4" y="365.28" width="1" height="1" fill="#bebebe"/><rect x="412.4" y="365.28" width="1" height="1" fill="#3b3b3b"/><rect x="417.4" y="365.28" width="1" height="1" fill="#bebebe"/><rect x="418.4" y="365.28" width="1" height="1" fill="#7d7d7d"/><rect x="419.4" y="365.28" width="1" height="1" fill="#bebebe"/><rect x="423.4" y="365.28" width="1" height="1" fill="#7d7d7d"/><rect x="430.4" y="365.28" width="1" height="1" fill="#7d7d7d"/><rect x="432.4" y="365.28" width="1" height="1" fill="#7d7d7d"/><rect x="433.4" y="365.28" width="1" height="1" fill="#7d7d7d"/><rect x="437.4" y="365.28" width="1" height="1" fill="#bebebe"/><rect x="438.4" y="365.28" width="1" height="1" fill="#bebebe"/><rect x="444.4" y="365.28" width="1" height="1" fill="#7d7d7d"/><rect x="447.4" y="365.28" width="1" height="1" fill="#7d7d7d"/><rect x="448.4" y="365.28" width="1" height="1" fill="#bebebe"/><rect x="449.4" y="365.28" width="1" height="1" fill="#7d7d7d"/><rect x="450.4" y="365.28" width="1" height="1" fill="#3b3b3b"/><rect x="451.4" y="365.28" width="1" height="1" fill="#7d7d7d"/><rect x="353.4" y="366.28" width="1" height="1" fill="#7d7d7d"/><rect x="354.4" y="366.28" width="1" height="1" fill="#bebebe"/><rect x="355.4" y="366.28" width="1" height="1" fill="#7d7d7d"/><rect x="357.4" y="366.28" width="1" height="1" fill="#3b3b3b"/><rect x="360.4" y="366.28" width="1" height="1" fill="#7d7d7d"/><rect x="362.4" y="366.28" width="1" height="1" fill="#bebebe"/><rect x="363.4" y="366.28" width="1" height="1" fill="#7d7d7d"/><rect x="364.4" y="366.28" width="1" height="1" fill="#bebebe"/><rect x="366.4" y="366.28" width="1" height="1" fill="#bebebe"/><rect x="367.4" y="366.28" width="1" height="1" fill="#3b3b3b"/><rect x="371.4" y="366.28" width="1" height="1" fill="#bebebe"/><rect x="372.4" y="366.28" width="1" height="1" fill="#3b3b3b"/><rect x="373.4" y="366.28" width="1" height="1" fill="#bebebe"/><rect x="374.4" y="366.28" width="1" height="1" fill="#7d7d7d"/><rect x="375.4" y="366.28" width="1" height="1" fill="#3b3b3b"/><rect x="379.4" y="366.28" width="1" height="1" fill="#7d7d7d"/><rect x="380.4" y="366.28" width="1" height="1" fill="#bebebe"/><rect x="383.4" y="366.28" width="1" height="1" fill="#bebebe"/><rect x="384.4" y="366.28" width="1" height="1" fill="#bebebe"/><rect x="389.4" y="366.28" width="1" height="1" fill="#7d7d7d"/><rect x="391.4" y="366.28" width="1" height="1" fill="#3b3b3b"/><rect x="392.4" y="366.28" width="1" height="1" fill="#bebebe"/><rect x="394.4" y="366.28" width="1" height="1" fill="#bebebe"/><rect x="395.4" y="366.28" width="1" height="1" fill="#7d7d7d"/><rect x="396.4" y="366.28" width="1" height="1" fill="#3b3b3b"/><rect x="400.4" y="366.28" width="1" height="1" fill="#7d7d7d"/><rect x="401.4" y="366.28" width="1" height="1" fill="#7d7d7d"/><rect x="402.4" y="366.28" width="1" height="1" fill="#bebebe"/><rect x="403.4" y="366.28" width="1" height="1" fill="#3b3b3b"/><rect x="404.4" y="366.28" width="1" height="1" fill="#bebebe"/><rect x="409.4" y="366.28" width="1" height="1" fill="#bebebe"/><rect x="410.4" y="366.28" width="1" height="1" fill="#7d7d7d"/><rect x="411.4" y="366.28" width="1" height="1" fill="#3b3b3b"/><rect x="412.4" y="366.28" width="1" height="1" fill="#3b3b3b"/><rect x="417.4" y="366.28" width="1" height="1" fill="#bebebe"/><rect x="418.4" y="366.28" width="1" height="1" fill="#7d7d7d"/><rect x="420.4" y="366.28" width="1" height="1" fill="#7d7d7d"/><rect x="423.4" y="366.28" width="1" height="1" fill="#7d7d7d"/><rect x="424.4" y="366.28" width="1" height="1" fill="#3b3b3b"/><rect x="427.4" y="366.28" width="1" height="1" fill="#7d7d7d"/><rect x="428.4" y="366.28" width="1" height="1" fill="#7d7d7d"/><rect x="429.4" y="366.28" width="1" height="1" fill="#7d7d7d"/><rect x="437.4" y="366.28" width="1" height="1" fill="#bebebe"/><rect x="438.4" y="366.28" width="1" height="1" fill="#7d7d7d"/><rect x="442.4" y="366.28" width="1" height="1" fill="#7d7d7d"/><rect x="443.4" y="366.28" width="1" height="1" fill="#7d7d7d"/><rect x="444.4" y="366.28" width="1" height="1" fill="#3b3b3b"/><rect x="445.4" y="366.28" width="1" height="1" fill="#7d7d7d"/><rect x="447.4" y="366.28" width="1" height="1" fill="#bebebe"/><rect x="448.4" y="366.28" width="1" height="1" fill="#bebebe"/><rect x="451.4" y="366.28" width="1" height="1" fill="#bebebe"/><rect x="452.4" y="366.28" width="1" height="1" fill="#3b3b3b"/><rect x="352.4" y="367.28" width="1" height="1" fill="#7d7d7d"/><rect x="353.4" y="367.28" width="1" height="1" fill="#bebebe"/><rect x="355.4" y="367.28" width="1" height="1" fill="#7d7d7d"/><rect x="357.4" y="367.28" width="1" height="1" fill="#bebebe"/><rect x="358.4" y="367.28" width="1" height="1" fill="#3b3b3b"/><rect x="360.4" y="367.28" width="1" height="1" fill="#3b3b3b"/><rect x="361.4" y="367.28" width="1" height="1" fill="#7d7d7d"/><rect x="362.4" y="367.28" width="1" height="1" fill="#bebebe"/><rect x="364.4" y="367.28" width="1" height="1" fill="#3b3b3b"/><rect x="367.4" y="367.28" width="1" height="1" fill="#7d7d7d"/><rect x="368.4" y="367.28" width="1" height="1" fill="#7d7d7d"/><rect x="369.4" y="367.28" width="1" height="1" fill="#7d7d7d"/><rect x="370.4" y="367.28" width="1" height="1" fill="#7d7d7d"/><rect x="372.4" y="367.28" width="1" height="1" fill="#bebebe"/><rect x="373.4" y="367.28" width="1" height="1" fill="#bebebe"/><rect x="375.4" y="367.28" width="1" height="1" fill="#7d7d7d"/><rect x="380.4" y="367.28" width="1" height="1" fill="#7d7d7d"/><rect x="381.4" y="367.28" width="1" height="1" fill="#7d7d7d"/><rect x="382.4" y="367.28" width="1" height="1" fill="#7d7d7d"/><rect x="383.4" y="367.28" width="1" height="1" fill="#bebebe"/><rect x="389.4" y="367.28" width="1" height="1" fill="#3b3b3b"/><rect x="394.4" y="367.28" width="1" height="1" fill="#7d7d7d"/><rect x="395.4" y="367.28" width="1" height="1" fill="#bebebe"/><rect x="396.4" y="367.28" width="1" height="1" fill="#7d7d7d"/><rect x="399.4" y="367.28" width="1" height="1" fill="#7d7d7d"/><rect x="400.4" y="367.28" width="1" height="1" fill="#7d7d7d"/><rect x="404.4" y="367.28" width="1" height="1" fill="#3b3b3b"/><rect x="412.4" y="367.28" width="1" height="1" fill="#bebebe"/><rect x="418.4" y="367.28" width="1" height="1" fill="#3b3b3b"/><rect x="419.4" y="367.28" width="1" height="1" fill="#3b3b3b"/><rect x="420.4" y="367.28" width="1" height="1" fill="#bebebe"/><rect x="421.4" y="367.28" width="1" height="1" fill="#7d7d7d"/><rect x="422.4" y="367.28" width="1" height="1" fill="#3b3b3b"/><rect x="423.4" y="367.28" width="1" height="1" fill="#7d7d7d"/><rect x="424.4" y="367.28" width="1" height="1" fill="#7d7d7d"/><rect x="427.4" y="367.28" width="1" height="1" fill="#7d7d7d"/><rect x="431.4" y="367.28" width="1" height="1" fill="#bebebe"/><rect x="432.4" y="367.28" width="1" height="1" fill="#7d7d7d"/><rect x="433.4" y="367.28" width="1" height="1" fill="#7d7d7d"/><rect x="434.4" y="367.28" width="1" height="1" fill="#7d7d7d"/><rect x="435.4" y="367.28" width="1" height="1" fill="#3b3b3b"/><rect x="438.4" y="367.28" width="1" height="1" fill="#3b3b3b"/><rect x="441.4" y="367.28" width="1" height="1" fill="#7d7d7d"/><rect x="443.4" y="367.28" width="1" height="1" fill="#bebebe"/><rect x="444.4" y="367.28" width="1" height="1" fill="#bebebe"/><rect x="445.4" y="367.28" width="1" height="1" fill="#7d7d7d"/><rect x="446.4" y="367.28" width="1" height="1" fill="#3b3b3b"/><rect x="447.4" y="367.28" width="1" height="1" fill="#bebebe"/><rect x="351.4" y="368.28" width="1" height="1" fill="#3b3b3b"/><rect x="352.4" y="368.28" width="1" height="1" fill="#3b3b3b"/><rect x="353.4" y="368.28" width="1" height="1" fill="#bebebe"/><rect x="355.4" y="368.28" width="1" height="1" fill="#3b3b3b"/><rect x="356.4" y="368.28" width="1" height="1" fill="#7d7d7d"/><rect x="358.4" y="368.28" width="1" height="1" fill="#bebebe"/><rect x="359.4" y="368.28" width="1" height="1" fill="#3b3b3b"/><rect x="364.4" y="368.28" width="1" height="1" fill="#7d7d7d"/><rect x="366.4" y="368.28" width="1" height="1" fill="#7d7d7d"/><rect x="368.4" y="368.28" width="1" height="1" fill="#7d7d7d"/><rect x="370.4" y="368.28" width="1" height="1" fill="#bebebe"/><rect x="371.4" y="368.28" width="1" height="1" fill="#3b3b3b"/><rect x="372.4" y="368.28" width="1" height="1" fill="#7d7d7d"/><rect x="373.4" y="368.28" width="1" height="1" fill="#bebebe"/><rect x="374.4" y="368.28" width="1" height="1" fill="#3b3b3b"/><rect x="375.4" y="368.28" width="1" height="1" fill="#3b3b3b"/><rect x="376.4" y="368.28" width="1" height="1" fill="#3b3b3b"/><rect x="380.4" y="368.28" width="1" height="1" fill="#7d7d7d"/><rect x="381.4" y="368.28" width="1" height="1" fill="#7d7d7d"/><rect x="382.4" y="368.28" width="1" height="1" fill="#bebebe"/><rect x="386.4" y="368.28" width="1" height="1" fill="#373737"/><rect x="387.4" y="368.28" width="1" height="1" fill="#7d7d7d"/><rect x="388.4" y="368.28" width="1" height="1" fill="#3b3b3b"/><rect x="389.4" y="368.28" width="1" height="1" fill="#bebebe"/><rect x="390.4" y="368.28" width="1" height="1" fill="#3b3b3b"/><rect x="391.4" y="368.28" width="1" height="1" fill="#7d7d7d"/><rect x="392.4" y="368.28" width="1" height="1" fill="#7d7d7d"/><rect x="393.4" y="368.28" width="1" height="1" fill="#7d7d7d"/><rect x="394.4" y="368.28" width="1" height="1" fill="#7d7d7d"/><rect x="395.4" y="368.28" width="1" height="1" fill="#373737"/><rect x="399.4" y="368.28" width="1" height="1" fill="#7d7d7d"/><rect x="400.4" y="368.28" width="1" height="1" fill="#3b3b3b"/><rect x="404.4" y="368.28" width="1" height="1" fill="#3b3b3b"/><rect x="405.4" y="368.28" width="1" height="1" fill="#7d7d7d"/><rect x="406.4" y="368.28" width="1" height="1" fill="#3b3b3b"/><rect x="407.4" y="368.28" width="1" height="1" fill="#7d7d7d"/><rect x="408.4" y="368.28" width="1" height="1" fill="#7d7d7d"/><rect x="409.4" y="368.28" width="1" height="1" fill="#7d7d7d"/><rect x="410.4" y="368.28" width="1" height="1" fill="#7d7d7d"/><rect x="411.4" y="368.28" width="1" height="1" fill="#3b3b3b"/><rect x="414.4" y="368.28" width="1" height="1" fill="#7d7d7d"/><rect x="415.4" y="368.28" width="1" height="1" fill="#3b3b3b"/><rect x="416.4" y="368.28" width="1" height="1" fill="#7d7d7d"/><rect x="419.4" y="368.28" width="1" height="1" fill="#3b3b3b"/><rect x="420.4" y="368.28" width="1" height="1" fill="#3b3b3b"/><rect x="423.4" y="368.28" width="1" height="1" fill="#bebebe"/><rect x="424.4" y="368.28" width="1" height="1" fill="#bebebe"/><rect x="427.4" y="368.28" width="1" height="1" fill="#3b3b3b"/><rect x="428.4" y="368.28" width="1" height="1" fill="#bebebe"/><rect x="431.4" y="368.28" width="1" height="1" fill="#7d7d7d"/><rect x="432.4" y="368.28" width="1" height="1" fill="#bebebe"/><rect x="433.4" y="368.28" width="1" height="1" fill="#7d7d7d"/><rect x="434.4" y="368.28" width="1" height="1" fill="#7d7d7d"/><rect x="435.4" y="368.28" width="1" height="1" fill="#bebebe"/><rect x="438.4" y="368.28" width="1" height="1" fill="#7d7d7d"/><rect x="441.4" y="368.28" width="1" height="1" fill="#7d7d7d"/><rect x="442.4" y="368.28" width="1" height="1" fill="#7d7d7d"/><rect x="443.4" y="368.28" width="1" height="1" fill="#7d7d7d"/><rect x="444.4" y="368.28" width="1" height="1" fill="#7d7d7d"/><rect x="447.4" y="368.28" width="1" height="1" fill="#3b3b3b"/><rect x="449.4" y="368.28" width="1" height="1" fill="#bebebe"/><rect x="450.4" y="368.28" width="1" height="1" fill="#bebebe"/><rect x="351.4" y="369.28" width="1" height="1" fill="#7d7d7d"/><rect x="353.4" y="369.28" width="1" height="1" fill="#3b3b3b"/><rect x="354.4" y="369.28" width="1" height="1" fill="#bebebe"/><rect x="356.4" y="369.28" width="1" height="1" fill="#bebebe"/><rect x="357.4" y="369.28" width="1" height="1" fill="#7d7d7d"/><rect x="359.4" y="369.28" width="1" height="1" fill="#bebebe"/><rect x="360.4" y="369.28" width="1" height="1" fill="#3b3b3b"/><rect x="361.4" y="369.28" width="1" height="1" fill="#bebebe"/><rect x="364.4" y="369.28" width="1" height="1" fill="#7d7d7d"/><rect x="366.4" y="369.28" width="1" height="1" fill="#bebebe"/><rect x="367.4" y="369.28" width="1" height="1" fill="#3b3b3b"/><rect x="368.4" y="369.28" width="1" height="1" fill="#3b3b3b"/><rect x="373.4" y="369.28" width="1" height="1" fill="#7d7d7d"/><rect x="375.4" y="369.28" width="1" height="1" fill="#3b3b3b"/><rect x="376.4" y="369.28" width="1" height="1" fill="#7d7d7d"/><rect x="377.4" y="369.28" width="1" height="1" fill="#3b3b3b"/><rect x="379.4" y="369.28" width="1" height="1" fill="#7d7d7d"/><rect x="382.4" y="369.28" width="1" height="1" fill="#7d7d7d"/><rect x="383.4" y="369.28" width="1" height="1" fill="#3b3b3b"/><rect x="386.4" y="369.28" width="1" height="1" fill="#7d7d7d"/><rect x="387.4" y="369.28" width="1" height="1" fill="#bebebe"/><rect x="388.4" y="369.28" width="1" height="1" fill="#7d7d7d"/><rect x="391.4" y="369.28" width="1" height="1" fill="#bebebe"/><rect x="395.4" y="369.28" width="1" height="1" fill="#7d7d7d"/><rect x="399.4" y="369.28" width="1" height="1" fill="#3b3b3b"/><rect x="400.4" y="369.28" width="1" height="1" fill="#bebebe"/><rect x="401.4" y="369.28" width="1" height="1" fill="#3b3b3b"/><rect x="402.4" y="369.28" width="1" height="1" fill="#bebebe"/><rect x="410.4" y="369.28" width="1" height="1" fill="#bebebe"/><rect x="411.4" y="369.28" width="1" height="1" fill="#bebebe"/><rect x="413.4" y="369.28" width="1" height="1" fill="#7d7d7d"/><rect x="416.4" y="369.28" width="1" height="1" fill="#bebebe"/><rect x="417.4" y="369.28" width="1" height="1" fill="#3b3b3b"/><rect x="418.4" y="369.28" width="1" height="1" fill="#7d7d7d"/><rect x="419.4" y="369.28" width="1" height="1" fill="#7d7d7d"/><rect x="420.4" y="369.28" width="1" height="1" fill="#3b3b3b"/><rect x="421.4" y="369.28" width="1" height="1" fill="#7d7d7d"/><rect x="422.4" y="369.28" width="1" height="1" fill="#3b3b3b"/><rect x="428.4" y="369.28" width="1" height="1" fill="#7d7d7d"/><rect x="429.4" y="369.28" width="1" height="1" fill="#3b3b3b"/><rect x="430.4" y="369.28" width="1" height="1" fill="#7d7d7d"/><rect x="432.4" y="369.28" width="1" height="1" fill="#7d7d7d"/><rect x="438.4" y="369.28" width="1" height="1" fill="#7d7d7d"/><rect x="442.4" y="369.28" width="1" height="1" fill="#bebebe"/><rect x="443.4" y="369.28" width="1" height="1" fill="#bebebe"/><rect x="444.4" y="369.28" width="1" height="1" fill="#bebebe"/><rect x="445.4" y="369.28" width="1" height="1" fill="#7d7d7d"/><rect x="446.4" y="369.28" width="1" height="1" fill="#3b3b3b"/><rect x="447.4" y="369.28" width="1" height="1" fill="#bebebe"/><rect x="448.4" y="369.28" width="1" height="1" fill="#3b3b3b"/><rect x="449.4" y="369.28" width="1" height="1" fill="#3b3b3b"/><rect x="450.4" y="369.28" width="1" height="1" fill="#3b3b3b"/><rect x="451.4" y="369.28" width="1" height="1" fill="#7d7d7d"/><rect x="452.4" y="369.28" width="1" height="1" fill="#3b3b3b"/><rect x="351.4" y="370.28" width="1" height="1" fill="#3b3b3b"/><rect x="352.4" y="370.28" width="1" height="1" fill="#7d7d7d"/><rect x="353.4" y="370.28" width="1" height="1" fill="#7d7d7d"/><rect x="356.4" y="370.28" width="1" height="1" fill="#bebebe"/><rect x="357.4" y="370.28" width="1" height="1" fill="#bebebe"/><rect x="360.4" y="370.28" width="1" height="1" fill="#bebebe"/><rect x="361.4" y="370.28" width="1" height="1" fill="#bebebe"/><rect x="364.4" y="370.28" width="1" height="1" fill="#7d7d7d"/><rect x="367.4" y="370.28" width="1" height="1" fill="#7d7d7d"/><rect x="368.4" y="370.28" width="1" height="1" fill="#bebebe"/><rect x="369.4" y="370.28" width="1" height="1" fill="#3b3b3b"/><rect x="370.4" y="370.28" width="1" height="1" fill="#7d7d7d"/><rect x="371.4" y="370.28" width="1" height="1" fill="#7d7d7d"/><rect x="376.4" y="370.28" width="1" height="1" fill="#7d7d7d"/><rect x="377.4" y="370.28" width="1" height="1" fill="#bebebe"/><rect x="378.4" y="370.28" width="1" height="1" fill="#3b3b3b"/><rect x="379.4" y="370.28" width="1" height="1" fill="#3b3b3b"/><rect x="382.4" y="370.28" width="1" height="1" fill="#7d7d7d"/><rect x="383.4" y="370.28" width="1" height="1" fill="#7d7d7d"/><rect x="387.4" y="370.28" width="1" height="1" fill="#7d7d7d"/><rect x="388.4" y="370.28" width="1" height="1" fill="#bebebe"/><rect x="394.4" y="370.28" width="1" height="1" fill="#bebebe"/><rect x="395.4" y="370.28" width="1" height="1" fill="#bebebe"/><rect x="399.4" y="370.28" width="1" height="1" fill="#7d7d7d"/><rect x="401.4" y="370.28" width="1" height="1" fill="#bebebe"/><rect x="402.4" y="370.28" width="1" height="1" fill="#bebebe"/><rect x="403.4" y="370.28" width="1" height="1" fill="#7d7d7d"/><rect x="404.4" y="370.28" width="1" height="1" fill="#7d7d7d"/><rect x="405.4" y="370.28" width="1" height="1" fill="#7d7d7d"/><rect x="407.4" y="370.28" width="1" height="1" fill="#7d7d7d"/><rect x="408.4" y="370.28" width="1" height="1" fill="#7d7d7d"/><rect x="410.4" y="370.28" width="1" height="1" fill="#7d7d7d"/><rect x="411.4" y="370.28" width="1" height="1" fill="#bebebe"/><rect x="412.4" y="370.28" width="1" height="1" fill="#7d7d7d"/><rect x="419.4" y="370.28" width="1" height="1" fill="#7d7d7d"/><rect x="420.4" y="370.28" width="1" height="1" fill="#7d7d7d"/><rect x="422.4" y="370.28" width="1" height="1" fill="#7d7d7d"/><rect x="425.4" y="370.28" width="1" height="1" fill="#bebebe"/><rect x="426.4" y="370.28" width="1" height="1" fill="#7d7d7d"/><rect x="427.4" y="370.28" width="1" height="1" fill="#3b3b3b"/><rect x="428.4" y="370.28" width="1" height="1" fill="#7d7d7d"/><rect x="429.4" y="370.28" width="1" height="1" fill="#bebebe"/><rect x="432.4" y="370.28" width="1" height="1" fill="#7d7d7d"/><rect x="433.4" y="370.28" width="1" height="1" fill="#bebebe"/><rect x="437.4" y="370.28" width="1" height="1" fill="#7d7d7d"/><rect x="442.4" y="370.28" width="1" height="1" fill="#7d7d7d"/><rect x="446.4" y="370.28" width="1" height="1" fill="#bebebe"/><rect x="447.4" y="370.28" width="1" height="1" fill="#7d7d7d"/><rect x="449.4" y="370.28" width="1" height="1" fill="#7d7d7d"/><rect x="450.4" y="370.28" width="1" height="1" fill="#3b3b3b"/><rect x="452.4" y="370.28" width="1" height="1" fill="#7d7d7d"/><rect x="352.4" y="371.28" width="1" height="1" fill="#bebebe"/><rect x="353.4" y="371.28" width="1" height="1" fill="#373737"/><rect x="354.4" y="371.28" width="1" height="1" fill="#bebebe"/><rect x="355.4" y="371.28" width="1" height="1" fill="#bebebe"/><rect x="356.4" y="371.28" width="1" height="1" fill="#bebebe"/><rect x="359.4" y="371.28" width="1" height="1" fill="#bebebe"/><rect x="360.4" y="371.28" width="1" height="1" fill="#bebebe"/><rect x="364.4" y="371.28" width="1" height="1" fill="#7d7d7d"/><rect x="366.4" y="371.28" width="1" height="1" fill="#3b3b3b"/><rect x="371.4" y="371.28" width="1" height="1" fill="#bebebe"/><rect x="372.4" y="371.28" width="1" height="1" fill="#7d7d7d"/><rect x="373.4" y="371.28" width="1" height="1" fill="#3b3b3b"/><rect x="374.4" y="371.28" width="1" height="1" fill="#bebebe"/><rect x="375.4" y="371.28" width="1" height="1" fill="#7d7d7d"/><rect x="376.4" y="371.28" width="1" height="1" fill="#bebebe"/><rect x="377.4" y="371.28" width="1" height="1" fill="#7d7d7d"/><rect x="378.4" y="371.28" width="1" height="1" fill="#3b3b3b"/><rect x="379.4" y="371.28" width="1" height="1" fill="#7d7d7d"/><rect x="381.4" y="371.28" width="1" height="1" fill="#7d7d7d"/><rect x="387.4" y="371.28" width="1" height="1" fill="#7d7d7d"/><rect x="388.4" y="371.28" width="1" height="1" fill="#7d7d7d"/><rect x="389.4" y="371.28" width="1" height="1" fill="#3b3b3b"/><rect x="390.4" y="371.28" width="1" height="1" fill="#bebebe"/><rect x="391.4" y="371.28" width="1" height="1" fill="#bebebe"/><rect x="392.4" y="371.28" width="1" height="1" fill="#7d7d7d"/><rect x="393.4" y="371.28" width="1" height="1" fill="#3b3b3b"/><rect x="394.4" y="371.28" width="1" height="1" fill="#7d7d7d"/><rect x="395.4" y="371.28" width="1" height="1" fill="#7d7d7d"/><rect x="396.4" y="371.28" width="1" height="1" fill="#7d7d7d"/><rect x="397.4" y="371.28" width="1" height="1" fill="#7d7d7d"/><rect x="398.4" y="371.28" width="1" height="1" fill="#3b3b3b"/><rect x="399.4" y="371.28" width="1" height="1" fill="#3b3b3b"/><rect x="401.4" y="371.28" width="1" height="1" fill="#7d7d7d"/><rect x="403.4" y="371.28" width="1" height="1" fill="#7d7d7d"/><rect x="405.4" y="371.28" width="1" height="1" fill="#3b3b3b"/><rect x="407.4" y="371.28" width="1" height="1" fill="#7d7d7d"/><rect x="408.4" y="371.28" width="1" height="1" fill="#bebebe"/><rect x="409.4" y="371.28" width="1" height="1" fill="#7d7d7d"/><rect x="411.4" y="371.28" width="1" height="1" fill="#3b3b3b"/><rect x="412.4" y="371.28" width="1" height="1" fill="#7d7d7d"/><rect x="418.4" y="371.28" width="1" height="1" fill="#7d7d7d"/><rect x="419.4" y="371.28" width="1" height="1" fill="#bebebe"/><rect x="420.4" y="371.28" width="1" height="1" fill="#7d7d7d"/><rect x="422.4" y="371.28" width="1" height="1" fill="#7d7d7d"/><rect x="425.4" y="371.28" width="1" height="1" fill="#7d7d7d"/><rect x="429.4" y="371.28" width="1" height="1" fill="#7d7d7d"/><rect x="433.4" y="371.28" width="1" height="1" fill="#7d7d7d"/><rect x="434.4" y="371.28" width="1" height="1" fill="#7d7d7d"/><rect x="435.4" y="371.28" width="1" height="1" fill="#7d7d7d"/><rect x="437.4" y="371.28" width="1" height="1" fill="#7d7d7d"/><rect x="440.4" y="371.28" width="1" height="1" fill="#7d7d7d"/><rect x="441.4" y="371.28" width="1" height="1" fill="#7d7d7d"/><rect x="447.4" y="371.28" width="1" height="1" fill="#7d7d7d"/><rect x="449.4" y="371.28" width="1" height="1" fill="#7d7d7d"/><rect x="450.4" y="371.28" width="1" height="1" fill="#7d7d7d"/><rect x="452.4" y="371.28" width="1" height="1" fill="#7d7d7d"/><rect x="350.4" y="372.28" width="1" height="1" fill="#7d7d7d"/><rect x="351.4" y="372.28" width="1" height="1" fill="#3b3b3b"/><rect x="352.4" y="372.28" width="1" height="1" fill="#7d7d7d"/><rect x="354.4" y="372.28" width="1" height="1" fill="#7d7d7d"/><rect x="355.4" y="372.28" width="1" height="1" fill="#bebebe"/><rect x="359.4" y="372.28" width="1" height="1" fill="#7d7d7d"/><rect x="363.4" y="372.28" width="1" height="1" fill="#7d7d7d"/><rect x="366.4" y="372.28" width="1" height="1" fill="#7d7d7d"/><rect x="367.4" y="372.28" width="1" height="1" fill="#3b3b3b"/><rect x="368.4" y="372.28" width="1" height="1" fill="#bebebe"/><rect x="370.4" y="372.28" width="1" height="1" fill="#7d7d7d"/><rect x="371.4" y="372.28" width="1" height="1" fill="#7d7d7d"/><rect x="372.4" y="372.28" width="1" height="1" fill="#7d7d7d"/><rect x="373.4" y="372.28" width="1" height="1" fill="#7d7d7d"/><rect x="374.4" y="372.28" width="1" height="1" fill="#7d7d7d"/><rect x="376.4" y="372.28" width="1" height="1" fill="#7d7d7d"/><rect x="378.4" y="372.28" width="1" height="1" fill="#3b3b3b"/><rect x="381.4" y="372.28" width="1" height="1" fill="#bebebe"/><rect x="382.4" y="372.28" width="1" height="1" fill="#3b3b3b"/><rect x="383.4" y="372.28" width="1" height="1" fill="#7d7d7d"/><rect x="384.4" y="372.28" width="1" height="1" fill="#7d7d7d"/><rect x="385.4" y="372.28" width="1" height="1" fill="#7d7d7d"/><rect x="387.4" y="372.28" width="1" height="1" fill="#7d7d7d"/><rect x="390.4" y="372.28" width="1" height="1" fill="#7d7d7d"/><rect x="391.4" y="372.28" width="1" height="1" fill="#7d7d7d"/><rect x="393.4" y="372.28" width="1" height="1" fill="#7d7d7d"/><rect x="395.4" y="372.28" width="1" height="1" fill="#7d7d7d"/><rect x="396.4" y="372.28" width="1" height="1" fill="#3b3b3b"/><rect x="397.4" y="372.28" width="1" height="1" fill="#bebebe"/><rect x="398.4" y="372.28" width="1" height="1" fill="#7d7d7d"/><rect x="399.4" y="372.28" width="1" height="1" fill="#7d7d7d"/><rect x="400.4" y="372.28" width="1" height="1" fill="#bebebe"/><rect x="401.4" y="372.28" width="1" height="1" fill="#bebebe"/><rect x="403.4" y="372.28" width="1" height="1" fill="#7d7d7d"/><rect x="404.4" y="372.28" width="1" height="1" fill="#7d7d7d"/><rect x="407.4" y="372.28" width="1" height="1" fill="#3b3b3b"/><rect x="408.4" y="372.28" width="1" height="1" fill="#7d7d7d"/><rect x="411.4" y="372.28" width="1" height="1" fill="#7d7d7d"/><rect x="412.4" y="372.28" width="1" height="1" fill="#3b3b3b"/><rect x="413.4" y="372.28" width="1" height="1" fill="#7d7d7d"/><rect x="414.4" y="372.28" width="1" height="1" fill="#7d7d7d"/><rect x="415.4" y="372.28" width="1" height="1" fill="#7d7d7d"/><rect x="418.4" y="372.28" width="1" height="1" fill="#3b3b3b"/><rect x="419.4" y="372.28" width="1" height="1" fill="#7d7d7d"/><rect x="420.4" y="372.28" width="1" height="1" fill="#bebebe"/><rect x="421.4" y="372.28" width="1" height="1" fill="#bebebe"/><rect x="422.4" y="372.28" width="1" height="1" fill="#7d7d7d"/><rect x="425.4" y="372.28" width="1" height="1" fill="#7d7d7d"/><rect x="427.4" y="372.28" width="1" height="1" fill="#bebebe"/><rect x="428.4" y="372.28" width="1" height="1" fill="#3b3b3b"/><rect x="429.4" y="372.28" width="1" height="1" fill="#373737"/><rect x="430.4" y="372.28" width="1" height="1" fill="#bebebe"/><rect x="434.4" y="372.28" width="1" height="1" fill="#7d7d7d"/><rect x="436.4" y="372.28" width="1" height="1" fill="#7d7d7d"/><rect x="439.4" y="372.28" width="1" height="1" fill="#7d7d7d"/><rect x="445.4" y="372.28" width="1" height="1" fill="#7d7d7d"/><rect x="446.4" y="372.28" width="1" height="1" fill="#7d7d7d"/><rect x="449.4" y="372.28" width="1" height="1" fill="#7d7d7d"/><rect x="451.4" y="372.28" width="1" height="1" fill="#7d7d7d"/><rect x="353.4" y="373.28" width="1" height="1" fill="#7d7d7d"/><rect x="354.4" y="373.28" width="1" height="1" fill="#bebebe"/><rect x="358.4" y="373.28" width="1" height="1" fill="#7d7d7d"/><rect x="363.4" y="373.28" width="1" height="1" fill="#7d7d7d"/><rect x="368.4" y="373.28" width="1" height="1" fill="#3b3b3b"/><rect x="369.4" y="373.28" width="1" height="1" fill="#7d7d7d"/><rect x="372.4" y="373.28" width="1" height="1" fill="#bebebe"/><rect x="373.4" y="373.28" width="1" height="1" fill="#3b3b3b"/><rect x="374.4" y="373.28" width="1" height="1" fill="#7d7d7d"/><rect x="376.4" y="373.28" width="1" height="1" fill="#7d7d7d"/><rect x="378.4" y="373.28" width="1" height="1" fill="#7d7d7d"/><rect x="379.4" y="373.28" width="1" height="1" fill="#7d7d7d"/><rect x="380.4" y="373.28" width="1" height="1" fill="#7d7d7d"/><rect x="381.4" y="373.28" width="1" height="1" fill="#7d7d7d"/><rect x="385.4" y="373.28" width="1" height="1" fill="#7d7d7d"/><rect x="387.4" y="373.28" width="1" height="1" fill="#3b3b3b"/><rect x="390.4" y="373.28" width="1" height="1" fill="#7d7d7d"/><rect x="391.4" y="373.28" width="1" height="1" fill="#bebebe"/><rect x="393.4" y="373.28" width="1" height="1" fill="#3b3b3b"/><rect x="396.4" y="373.28" width="1" height="1" fill="#3b3b3b"/><rect x="397.4" y="373.28" width="1" height="1" fill="#3b3b3b"/><rect x="400.4" y="373.28" width="1" height="1" fill="#7d7d7d"/><rect x="403.4" y="373.28" width="1" height="1" fill="#7d7d7d"/><rect x="404.4" y="373.28" width="1" height="1" fill="#7d7d7d"/><rect x="405.4" y="373.28" width="1" height="1" fill="#7d7d7d"/><rect x="406.4" y="373.28" width="1" height="1" fill="#7d7d7d"/><rect x="407.4" y="373.28" width="1" height="1" fill="#7d7d7d"/><rect x="410.4" y="373.28" width="1" height="1" fill="#bebebe"/><rect x="411.4" y="373.28" width="1" height="1" fill="#bebebe"/><rect x="415.4" y="373.28" width="1" height="1" fill="#7d7d7d"/><rect x="421.4" y="373.28" width="1" height="1" fill="#7d7d7d"/><rect x="423.4" y="373.28" width="1" height="1" fill="#7d7d7d"/><rect x="424.4" y="373.28" width="1" height="1" fill="#7d7d7d"/><rect x="425.4" y="373.28" width="1" height="1" fill="#7d7d7d"/><rect x="427.4" y="373.28" width="1" height="1" fill="#7d7d7d"/><rect x="428.4" y="373.28" width="1" height="1" fill="#bebebe"/><rect x="429.4" y="373.28" width="1" height="1" fill="#7d7d7d"/><rect x="431.4" y="373.28" width="1" height="1" fill="#7d7d7d"/><rect x="432.4" y="373.28" width="1" height="1" fill="#7d7d7d"/><rect x="433.4" y="373.28" width="1" height="1" fill="#7d7d7d"/><rect x="434.4" y="373.28" width="1" height="1" fill="#bebebe"/><rect x="436.4" y="373.28" width="1" height="1" fill="#7d7d7d"/><rect x="439.4" y="373.28" width="1" height="1" fill="#7d7d7d"/><rect x="440.4" y="373.28" width="1" height="1" fill="#bebebe"/><rect x="445.4" y="373.28" width="1" height="1" fill="#3b3b3b"/><rect x="449.4" y="373.28" width="1" height="1" fill="#373737"/><rect x="450.4" y="373.28" width="1" height="1" fill="#bebebe"/><rect x="451.4" y="373.28" width="1" height="1" fill="#bebebe"/><rect x="452.4" y="373.28" width="1" height="1" fill="#3b3b3b"/><rect x="350.4" y="374.28" width="1" height="1" fill="#7d7d7d"/><rect x="351.4" y="374.28" width="1" height="1" fill="#7d7d7d"/><rect x="352.4" y="374.28" width="1" height="1" fill="#7d7d7d"/><rect x="353.4" y="374.28" width="1" height="1" fill="#7d7d7d"/><rect x="354.4" y="374.28" width="1" height="1" fill="#bebebe"/><rect x="357.4" y="374.28" width="1" height="1" fill="#7d7d7d"/><rect x="360.4" y="374.28" width="1" height="1" fill="#bebebe"/><rect x="361.4" y="374.28" width="1" height="1" fill="#7d7d7d"/><rect x="362.4" y="374.28" width="1" height="1" fill="#7d7d7d"/><rect x="363.4" y="374.28" width="1" height="1" fill="#bebebe"/><rect x="366.4" y="374.28" width="1" height="1" fill="#7d7d7d"/><rect x="367.4" y="374.28" width="1" height="1" fill="#3b3b3b"/><rect x="370.4" y="374.28" width="1" height="1" fill="#7d7d7d"/><rect x="374.4" y="374.28" width="1" height="1" fill="#3b3b3b"/><rect x="375.4" y="374.28" width="1" height="1" fill="#bebebe"/><rect x="376.4" y="374.28" width="1" height="1" fill="#bebebe"/><rect x="377.4" y="374.28" width="1" height="1" fill="#3b3b3b"/><rect x="378.4" y="374.28" width="1" height="1" fill="#7d7d7d"/><rect x="379.4" y="374.28" width="1" height="1" fill="#3b3b3b"/><rect x="380.4" y="374.28" width="1" height="1" fill="#7d7d7d"/><rect x="381.4" y="374.28" width="1" height="1" fill="#bebebe"/><rect x="384.4" y="374.28" width="1" height="1" fill="#bebebe"/><rect x="385.4" y="374.28" width="1" height="1" fill="#bebebe"/><rect x="387.4" y="374.28" width="1" height="1" fill="#7d7d7d"/><rect x="393.4" y="374.28" width="1" height="1" fill="#7d7d7d"/><rect x="400.4" y="374.28" width="1" height="1" fill="#7d7d7d"/><rect x="403.4" y="374.28" width="1" height="1" fill="#3b3b3b"/><rect x="407.4" y="374.28" width="1" height="1" fill="#7d7d7d"/><rect x="410.4" y="374.28" width="1" height="1" fill="#7d7d7d"/><rect x="411.4" y="374.28" width="1" height="1" fill="#bebebe"/><rect x="412.4" y="374.28" width="1" height="1" fill="#7d7d7d"/><rect x="414.4" y="374.28" width="1" height="1" fill="#7d7d7d"/><rect x="421.4" y="374.28" width="1" height="1" fill="#3b3b3b"/><rect x="422.4" y="374.28" width="1" height="1" fill="#7d7d7d"/><rect x="423.4" y="374.28" width="1" height="1" fill="#bebebe"/><rect x="424.4" y="374.28" width="1" height="1" fill="#7d7d7d"/><rect x="425.4" y="374.28" width="1" height="1" fill="#7d7d7d"/><rect x="426.4" y="374.28" width="1" height="1" fill="#7d7d7d"/><rect x="428.4" y="374.28" width="1" height="1" fill="#7d7d7d"/><rect x="429.4" y="374.28" width="1" height="1" fill="#7d7d7d"/><rect x="430.4" y="374.28" width="1" height="1" fill="#7d7d7d"/><rect x="436.4" y="374.28" width="1" height="1" fill="#bebebe"/><rect x="437.4" y="374.28" width="1" height="1" fill="#3b3b3b"/><rect x="440.4" y="374.28" width="1" height="1" fill="#373737"/><rect x="441.4" y="374.28" width="1" height="1" fill="#3b3b3b"/><rect x="442.4" y="374.28" width="1" height="1" fill="#7d7d7d"/><rect x="443.4" y="374.28" width="1" height="1" fill="#7d7d7d"/><rect x="444.4" y="374.28" width="1" height="1" fill="#7d7d7d"/><rect x="445.4" y="374.28" width="1" height="1" fill="#3b3b3b"/><rect x="449.4" y="374.28" width="1" height="1" fill="#7d7d7d"/>
<rect x="349.4" y="358.28" width="105.9" height="18.49" fill="none" stroke="#000" stroke-width="1"/>
<rect x="349.4" y="381.4" width="52.95" height="18.49" fill="#3274A1"/>
<line x1="375.88" y1="240.4" x2="375.88" y2="402.2" stroke="#000" stroke-width="1" stroke-dasharray="1.8 0.5"/>
<line x1="402.35" y1="240.4" x2="402.35" y2="402.2" stroke="#000" stroke-width="1" stroke-dasharray="1.8 0.5"/>
<line x1="428.83" y1="240.4" x2="428.83" y2="402.2" stroke="#000" stroke-width="1" stroke-dasharray="1.8 0.5"/>
<line x1="455.3" y1="240.4" x2="455.3" y2="402.2" stroke="#000" stroke-width="1" stroke-dasharray="1.8 0.5"/>
<rect x="349.4" y="240.4" width="111.2" height="161.8" fill="none" stroke="#000" stroke-width="1.1"/>
<line x1="346.8" y1="251.96" x2="349.4" y2="251.96" stroke="#000" stroke-width="1"/>
<text x="343.4" y="255.51" font-size="9.3" text-anchor="end" textLength="87.93" lengthAdjust="spacingAndGlyphs">T.SEDAN.9-L.SUV.17.9</text>
<line x1="346.8" y1="275.07" x2="349.4" y2="275.07" stroke="#000" stroke-width="1"/>
<text x="343.4" y="278.62" font-size="9.3" text-anchor="end" textLength="70.72" lengthAdjust="spacingAndGlyphs">T.SUV.9-L.HB.17.9</text>
<line x1="346.8" y1="298.19" x2="349.4" y2="298.19" stroke="#000" stroke-width="1"/>
<text x="343.4" y="301.74" font-size="9.3" text-anchor="end" textLength="87.93" lengthAdjust="spacingAndGlyphs">T.SUV.9-L.SEDAN.17.9</text>
<line x1="346.8" y1="321.3" x2="349.4" y2="321.3" stroke="#000" stroke-width="1"/>
<text x="343.4" y="324.85" font-size="9.3" text-anchor="end" textLength="74.99" lengthAdjust="spacingAndGlyphs">T.SUV.9-L.SUV.22.4</text>
<line x1="346.8" y1="344.41" x2="349.4" y2="344.41" stroke="#000" stroke-width="1"/>
<text x="343.4" y="347.96" font-size="9.3" text-anchor="end" textLength="88.42" lengthAdjust="spacingAndGlyphs">T.TRUCK.9-L.SUV.17.9</text>
<line x1="346.8" y1="367.53" x2="349.4" y2="367.53" stroke="#000" stroke-width="1"/>
<text x="343.4" y="371.08" font-size="9.3" text-anchor="end" textLength="101.85" lengthAdjust="spacingAndGlyphs">T.TRUCK.9-L.TRUCK.17.9</text>
<line x1="346.8" y1="390.64" x2="349.4" y2="390.64" stroke="#000" stroke-width="1"/>
<text x="343.4" y="394.19" font-size="9.3" text-anchor="end" textLength="101.85" lengthAdjust="spacingAndGlyphs">T.TRUCK.9-L.TRUCK.22.4</text>
<line x1="349.4" y1="402.2" x2="349.4" y2="404.8" stroke="#000" stroke-width="1"/>
<text x="350" y="415.9" font-size="12.6" text-anchor="middle" style="stroke-width:0.06px">0</text>
<line x1="375.88" y1="402.2" x2="375.88" y2="404.8" stroke="#000" stroke-width="1"/>
<text x="376.48" y="415.9" font-size="12.6" text-anchor="middle" style="stroke-width:0.06px">1</text>
<line x1="402.35" y1="402.2" x2="402.35" y2="404.8" stroke="#000" stroke-width="1"/>
<text x="402.95" y="415.9" font-size="12.6" text-anchor="middle" style="stroke-width:0.06px">2</text>
<line x1="428.83" y1="402.2" x2="428.83" y2="404.8" stroke="#000" stroke-width="1"/>
<text x="429.43" y="415.9" font-size="12.6" text-anchor="middle" style="stroke-width:0.06px">3</text>
<line x1="455.3" y1="402.2" x2="455.3" y2="404.8" stroke="#000" stroke-width="1"/>
<text x="455.9" y="415.9" font-size="12.6" text-anchor="middle" style="stroke-width:0.06px">4</text>
<text x="405.6" y="432.4" font-size="14.2" text-anchor="middle">Count</text>
<text x="403.6" y="232.5" font-size="14.4" font-style="italic" text-anchor="middle">B<tspan font-size="8.5" dy="4.9">LS,LI,MM</tspan></text>
<path d="M427.3 222.4L427.3 225.4M426 223.15L428.6 224.65M426 224.65L428.6 223.15" stroke="#000" stroke-width="1" stroke-linecap="round"/>
<rect x="573.5" y="242.02" width="105.9" height="12.94" fill="#3274A1"/>
<rect x="573.5" y="258.2" width="105.9" height="12.94" fill="#3274A1"/>
<rect x="573.5" y="274.38" width="105.9" height="12.94" fill="#3274A1"/>
<rect x="573.5" y="290.56" width="105.9" height="12.94" fill="#EA519A"/>
<rect x="573.5" y="306.74" width="105.9" height="12.94" fill="#FFB2D0"/>
<rect x="573.5" y="322.92" width="105.9" height="12.94" fill="#3274A1"/>
<rect x="573.5" y="339.1" width="105.9" height="12.94" fill="#3274A1"/>
<rect x="573.5" y="355.28" width="105.9" height="12.94" fill="#3274A1"/>
<rect x="573.5" y="371.46" width="105.9" height="12.94" fill="#C47ADC"/>
<rect x="573.5" y="387.64" width="21.18" height="12.94" fill="#3274A1"/>
<line x1="594.68" y1="240.4" x2="594.68" y2="402.2" stroke="#000" stroke-width="1" stroke-dasharray="1.8 0.5"/>
<line x1="615.86" y1="240.4" x2="615.86" y2="402.2" stroke="#000" stroke-width="1" stroke-dasharray="1.8 0.5"/>
<line x1="637.04" y1="240.4" x2="637.04" y2="402.2" stroke="#000" stroke-width="1" stroke-dasharray="1.8 0.5"/>
<line x1="658.22" y1="240.4" x2="658.22" y2="402.2" stroke="#000" stroke-width="1" stroke-dasharray="1.8 0.5"/>
<line x1="679.4" y1="240.4" x2="679.4" y2="402.2" stroke="#000" stroke-width="1" stroke-dasharray="1.8 0.5"/>
<rect x="573.5" y="240.4" width="111.2" height="161.8" fill="none" stroke="#000" stroke-width="1.1"/>
<line x1="570.9" y1="248.49" x2="573.5" y2="248.49" stroke="#000" stroke-width="1"/>
<text x="568.2" y="251.44" font-size="9.3" text-anchor="end" textLength="87.93" lengthAdjust="spacingAndGlyphs">T.SEDAN.9-L.SUV.17.9</text>
<line x1="570.9" y1="264.67" x2="573.5" y2="264.67" stroke="#000" stroke-width="1"/>
<text x="568.2" y="267.62" font-size="9.3" text-anchor="end" textLength="101.36" lengthAdjust="spacingAndGlyphs">T.SEDAN.9-L.TRUCK.17.9</text>
<line x1="570.9" y1="280.85" x2="573.5" y2="280.85" stroke="#000" stroke-width="1"/>
<text x="568.2" y="283.8" font-size="9.3" text-anchor="end" textLength="87.93" lengthAdjust="spacingAndGlyphs">T.SEDAN.9-L.SUV.22.4</text>
<line x1="570.9" y1="297.03" x2="573.5" y2="297.03" stroke="#000" stroke-width="1"/>
<text x="568.2" y="299.98" font-size="9.3" text-anchor="end" textLength="101.36" lengthAdjust="spacingAndGlyphs">T.SEDAN.9-L.TRUCK.22.4</text>
<line x1="570.9" y1="313.21" x2="573.5" y2="313.21" stroke="#000" stroke-width="1"/>
<text x="568.2" y="316.16" font-size="9.3" text-anchor="end" textLength="88.42" lengthAdjust="spacingAndGlyphs">T.SUV.13.4-L.TRUCK.9</text>
<line x1="570.9" y1="329.39" x2="573.5" y2="329.39" stroke="#000" stroke-width="1"/>
<text x="568.2" y="332.34" font-size="9.3" text-anchor="end" textLength="101.36" lengthAdjust="spacingAndGlyphs">T.SEDAN.9-L.TRUCK.17.9</text>
<line x1="570.9" y1="345.57" x2="573.5" y2="345.57" stroke="#000" stroke-width="1"/>
<text x="568.2" y="348.52" font-size="9.3" text-anchor="end" textLength="99.49" lengthAdjust="spacingAndGlyphs">T.SUV.13.4-L.TRUCK.17.9</text>
<line x1="570.9" y1="361.75" x2="573.5" y2="361.75" stroke="#000" stroke-width="1"/>
<text x="568.2" y="364.7" font-size="9.3" text-anchor="end" textLength="74.99" lengthAdjust="spacingAndGlyphs">T.SUV.9-L.SUV.22.4</text>
<line x1="570.9" y1="377.93" x2="573.5" y2="377.93" stroke="#000" stroke-width="1"/>
<text x="568.2" y="380.88" font-size="9.3" text-anchor="end" textLength="88.42" lengthAdjust="spacingAndGlyphs">T.SUV.9-L.TRUCK.22.4</text>
<line x1="570.9" y1="394.11" x2="573.5" y2="394.11" stroke="#000" stroke-width="1"/>
<text x="568.2" y="397.06" font-size="9.3" text-anchor="end" textLength="101.85" lengthAdjust="spacingAndGlyphs">T.TRUCK.9-L.TRUCK.17.9</text>
<line x1="573.5" y1="402.2" x2="573.5" y2="404.8" stroke="#000" stroke-width="1"/>
<text x="573.2" y="415.9" font-size="12.6" text-anchor="middle" style="stroke-width:0.06px">0</text>
<line x1="594.68" y1="402.2" x2="594.68" y2="404.8" stroke="#000" stroke-width="1"/>
<text x="594.38" y="415.9" font-size="12.6" text-anchor="middle" style="stroke-width:0.06px">1</text>
<line x1="615.86" y1="402.2" x2="615.86" y2="404.8" stroke="#000" stroke-width="1"/>
<text x="615.56" y="415.9" font-size="12.6" text-anchor="middle" style="stroke-width:0.06px">2</text>
<line x1="637.04" y1="402.2" x2="637.04" y2="404.8" stroke="#000" stroke-width="1"/>
<text x="636.74" y="415.9" font-size="12.6" text-anchor="middle" style="stroke-width:0.06px">3</text>
<line x1="658.22" y1="402.2" x2="658.22" y2="404.8" stroke="#000" stroke-width="1"/>
<text x="657.92" y="415.9" font-size="12.6" text-anchor="middle" style="stroke-width:0.06px">4</text>
<line x1="679.4" y1="402.2" x2="679.4" y2="404.8" stroke="#000" stroke-width="1"/>
<text x="679.1" y="415.9" font-size="12.6" text-anchor="middle" style="stroke-width:0.06px">5</text>
<text x="626.9" y="432.4" font-size="14.2" text-anchor="middle">Count</text>
<text x="629.1" y="232.5" font-size="14.4" font-style="italic" text-anchor="middle">B<tspan font-size="8.5" dy="4.9">LS,MI,MM</tspan></text>
</svg>
</body></html>
